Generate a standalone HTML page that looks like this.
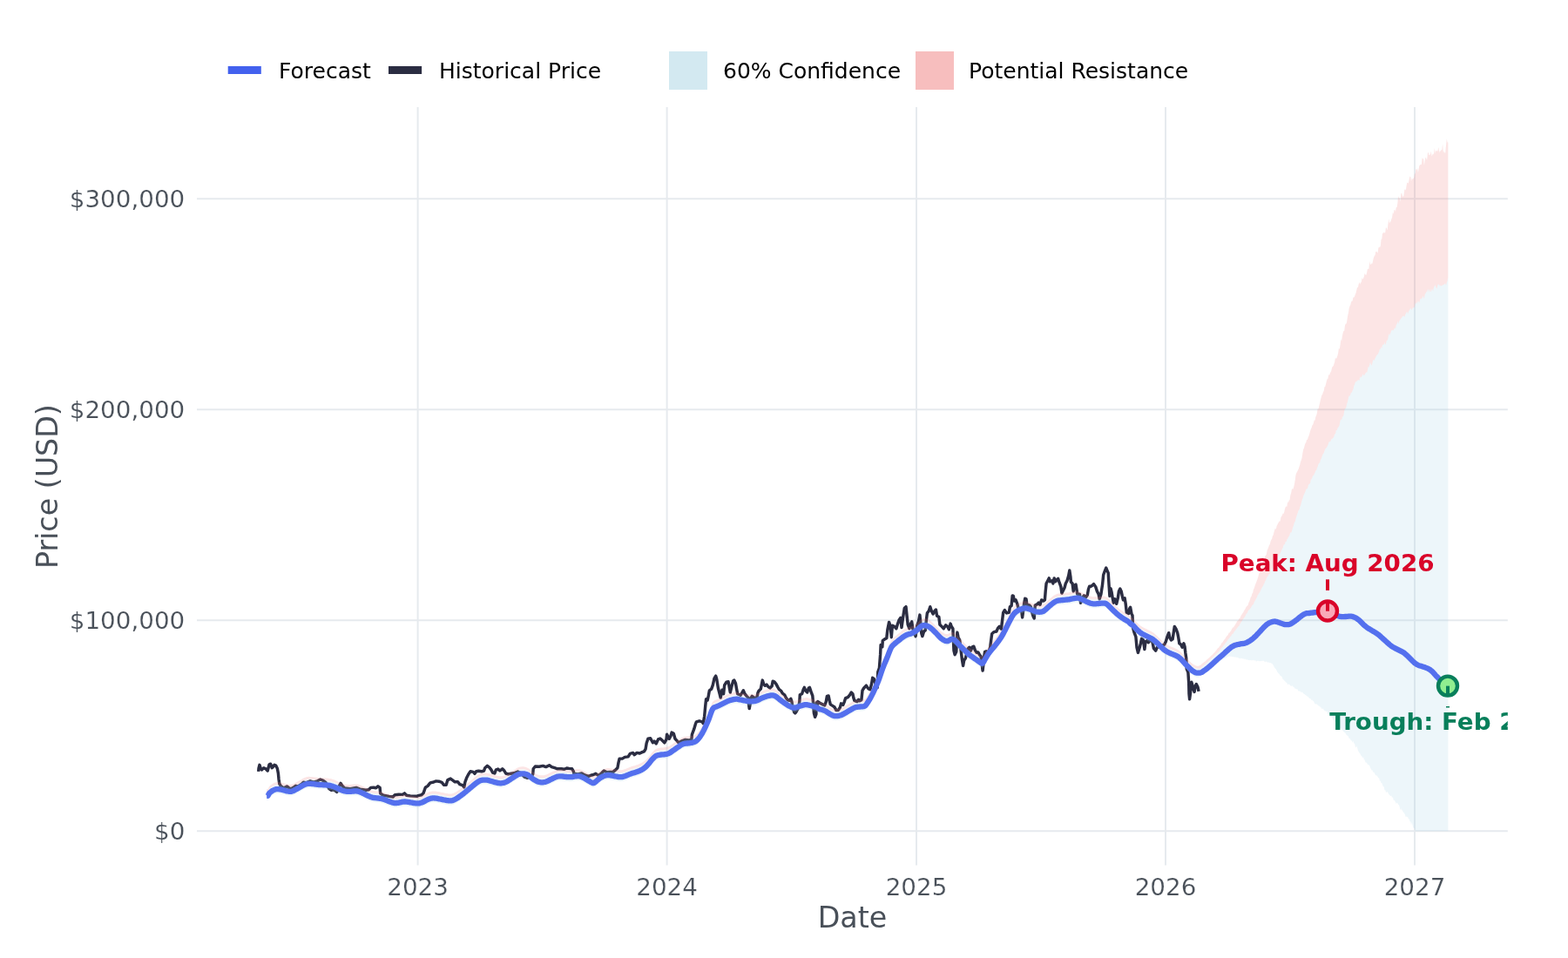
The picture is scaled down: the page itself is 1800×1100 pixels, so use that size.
<!DOCTYPE html>
<html lang="en"><head><meta charset="utf-8"><title>Price Forecast</title>
<style>
html,body{margin:0;padding:0;background:#fff;}
body{width:1800px;height:1100px;overflow:hidden;}
svg{display:block;}
text{font-family:"DejaVu Sans","Liberation Sans",sans-serif;}
.tick{font-size:27.8px;fill:#495059;stroke:#fff;stroke-width:0.2px;paint-order:fill stroke;}
.axt{font-size:33.3px;fill:#495059;}
.leg{font-size:25px;fill:#000;}
.ann{font-size:27.75px;font-weight:bold;}
</style></head><body>
<svg width="1800" height="1100" viewBox="0 0 1800 1100">
<rect width="1800" height="1100" fill="#fff"/>
<g stroke="#e6eaee" stroke-width="2" fill="none"><line x1="226" x2="1730.8" y1="228.2" y2="228.2"/><line x1="226" x2="1730.8" y1="470.2" y2="470.2"/><line x1="226" x2="1730.8" y1="712.2" y2="712.2"/><line x1="226" x2="1730.8" y1="954.3" y2="954.3"/><line x1="479.6" x2="479.6" y1="123" y2="993.5"/><line x1="765.6" x2="765.6" y1="123" y2="993.5"/><line x1="1052.0" x2="1052.0" y1="123" y2="993.5"/><line x1="1338.0" x2="1338.0" y1="123" y2="993.5"/><line x1="1624.0" x2="1624.0" y1="123" y2="993.5"/></g>
<defs><clipPath id="pc"><rect x="226" y="123" width="1504.8" height="870.5"/></clipPath></defs>
<polyline points="296.7,885.8 297.0,882.2 298.0,878.3 299.4,882.8 300.6,883.9 302.8,881.7 305.0,882.8 307.2,885.0 309.1,877.8 310.6,877.2 312.2,881.7 313.3,880.6 315.0,878.3 316.7,879.1 318.3,882.2 319.4,887.8 320.0,894.4 320.8,900.0 322.2,902.3 324.4,904.1 326.7,904.6 329.4,903.0 331.7,904.6 333.9,906.0 336.7,904.3 339.4,902.3 342.2,903.0 346.7,899.9 348.3,898.2 351.1,898.8 356.1,896.8 360.0,898.2 364.4,896.8 367.8,895.0 371.1,896.3 373.9,898.3 377.8,905.6 380.0,907.2 383.3,906.7 386.7,909.4 388.9,903.3 391.1,899.4 392.8,902.2 395.6,905.0 402.2,905.6 408.9,904.4 413.3,906.1 420.0,907.2 423.3,906.7 425.6,904.4 428.9,904.2 431.7,904.7 433.9,902.8 436.1,904.4 436.7,911.1 440.0,913.3 446.7,914.4 451.1,915.0 453.3,912.8 457.8,912.2 462.2,912.4 464.4,910.9 466.7,913.3 471.1,913.9 478.9,914.2 480.0,913.6 483.9,912.8 486.1,910.6 488.3,904.2 491.1,902.4 493.9,898.9 496.7,898.3 500.6,896.9 503.9,897.2 507.2,898.3 509.4,901.3 512.2,901.3 513.9,895.6 517.2,894.1 520.0,896.1 522.2,897.8 525.6,897.8 527.8,900.6 531.1,901.7 532.8,903.9 533.9,897.8 535.6,893.3 537.8,888.9 540.0,885.8 543.3,886.4 545.0,888.3 546.7,885.8 549.4,885.3 552.8,885.8 555.6,885.0 556.7,881.7 559.4,879.4 561.7,881.1 563.9,883.9 565.6,887.2 567.8,888.0 569.4,883.9 571.7,883.1 573.9,885.0 576.7,882.8 578.9,885.0 580.6,888.0 583.3,888.9 586.7,888.3 590.0,887.8 594.4,886.1 597.8,887.8 602.2,892.2 605.6,893.3 611.1,890.0 611.7,888.9 612.2,882.8 614.4,880.0 618.9,880.2 623.3,879.4 626.7,880.6 630.6,878.7 633.3,880.6 636.7,881.7 640.0,882.8 644.4,882.8 647.8,883.3 650.6,882.0 653.3,882.4 656.7,882.8 658.3,885.6 658.9,888.3 663.3,888.9 667.8,888.0 671.1,890.0 675.6,891.3 679.4,889.8 680.0,890.0 683.9,888.3 687.2,890.6 690.6,887.8 693.3,885.0 696.7,886.7 700.0,886.4 703.9,886.4 706.1,884.4 708.9,881.7 710.0,875.6 711.1,871.1 714.4,871.1 717.2,869.4 721.1,868.9 723.3,865.3 726.7,864.4 728.3,866.7 731.1,864.4 734.4,865.0 737.2,863.6 739.4,862.8 741.1,860.0 742.2,853.3 743.9,848.3 746.7,847.8 749.4,852.8 751.1,851.1 753.3,853.9 755.6,848.9 757.8,848.0 760.6,850.6 762.8,852.8 765.0,848.9 765.6,843.3 766.7,845.6 768.3,848.3 770.0,845.0 771.1,841.1 773.3,842.2 775.0,848.3 777.2,850.6 778.9,852.8 783.3,850.6 786.7,849.4 791.1,850.0 793.9,848.9 794.4,843.3 796.7,837.2 798.3,831.7 799.4,828.9 802.8,827.8 806.1,828.9 807.2,830.6 808.7,822.2 809.8,810.0 810.6,802.8 812.2,803.9 813.3,798.9 814.4,792.8 816.7,791.1 818.3,786.7 820.0,778.9 821.7,776.1 822.8,780.0 824.4,790.0 826.1,796.7 827.2,801.1 828.9,792.2 830.6,796.7 831.7,786.7 833.9,783.3 836.1,782.8 837.2,788.9 838.3,795.0 840.0,787.8 841.7,781.7 842.8,781.1 844.4,784.4 845.6,791.1 846.7,796.7 850.0,798.3 851.7,795.6 853.3,792.8 855.0,796.7 857.2,799.4 858.9,801.1 859.4,807.8 860.2,813.6 861.3,807.8 862.2,801.1 863.3,799.4 865.6,801.1 868.9,801.1 870.0,795.6 871.1,793.3 873.3,791.1 874.4,785.6 875.3,781.1 876.7,785.6 878.3,787.2 880.0,786.1 881.7,788.3 883.9,790.0 886.1,787.8 887.2,782.2 888.9,782.8 891.1,785.6 892.8,788.9 894.4,791.7 896.7,793.3 898.3,796.1 900.6,797.8 902.2,801.1 904.4,803.9 906.1,804.4 907.8,802.2 908.9,805.6 910.0,812.2 911.7,817.8 912.8,818.9 914.4,816.7 916.7,812.2 917.8,805.6 918.3,797.8 920.6,796.7 922.2,791.7 923.3,789.4 925.0,793.3 926.7,795.0 928.3,790.0 929.4,789.4 931.1,794.4 932.8,798.9 933.6,807.8 934.4,818.9 935.6,823.3 936.9,820.0 937.2,806.7 937.6,814.4 938.9,805.6 941.1,807.2 944.4,808.9 946.7,810.0 948.3,805.6 949.4,799.4 951.1,798.9 952.2,804.4 953.3,808.9 956.1,810.6 957.8,811.7 960.0,815.6 962.2,815.6 964.4,812.2 965.6,807.8 967.8,809.4 969.4,805.6 970.6,801.7 973.3,800.6 975.6,797.8 977.2,795.0 978.9,796.7 979.8,801.1 980.9,804.4 983.9,805.6 985.6,803.3 986.9,804.8 988.9,803.7 990.0,792.8 991.7,790.0 994.4,787.2 996.7,790.6 998.9,791.7 1000.6,785.0 1001.7,778.3 1003.3,779.4 1005.0,785.0 1007.2,789.4 1007.8,771.7 1009.4,767.2 1010.6,751.7 1011.1,740.6 1012.8,742.8 1013.3,735.6 1015.6,733.9 1017.8,732.8 1018.9,722.8 1020.6,714.4 1022.2,719.4 1023.3,731.7 1024.4,718.3 1026.7,719.4 1028.9,721.7 1030.6,716.1 1032.2,711.7 1033.9,709.4 1035.0,720.6 1036.7,708.3 1038.3,698.3 1040.0,696.7 1041.1,707.2 1042.2,717.2 1043.9,721.7 1045.6,716.1 1046.7,713.9 1047.8,721.7 1049.4,726.1 1051.1,730.6 1052.8,718.3 1054.4,713.9 1055.9,706.1 1056.7,713.9 1057.8,727.2 1058.9,730.6 1060.6,725.0 1062.2,723.9 1063.3,712.8 1064.4,703.9 1066.1,701.7 1067.8,696.7 1069.4,701.7 1071.1,705.0 1072.8,701.7 1074.4,700.0 1075.6,707.2 1077.8,708.3 1078.9,717.2 1081.1,719.4 1083.3,721.7 1085.6,717.8 1087.8,719.4 1089.4,722.8 1091.1,716.1 1092.2,719.4 1093.9,721.7 1094.4,735.0 1095.0,747.2 1096.1,751.7 1097.8,748.3 1098.3,735.0 1098.9,726.1 1100.0,731.7 1101.7,735.0 1103.3,748.3 1104.4,757.2 1105.6,764.4 1106.7,758.3 1108.3,756.1 1109.4,751.7 1111.1,745.0 1112.8,743.3 1114.4,747.2 1116.1,742.8 1117.8,742.2 1119.4,746.7 1121.1,749.4 1122.8,748.9 1124.4,751.7 1126.1,753.9 1127.2,762.8 1128.1,770.0 1128.9,762.8 1129.7,753.9 1130.6,748.3 1132.2,747.8 1134.4,750.0 1136.7,743.3 1137.8,734.4 1138.7,727.8 1141.1,725.6 1143.9,725.0 1145.6,721.1 1147.2,719.4 1149.4,722.2 1150.6,712.2 1151.7,703.3 1153.3,700.6 1155.6,703.9 1158.3,703.3 1159.4,696.7 1161.1,695.6 1162.2,683.9 1163.3,684.4 1164.4,690.0 1166.1,688.9 1167.8,693.3 1168.9,697.8 1172.8,702.2 1173.6,708.9 1174.4,703.3 1175.6,693.3 1176.7,687.2 1178.0,687.8 1178.9,694.4 1181.7,695.0 1183.3,696.7 1184.4,702.2 1186.1,707.8 1187.2,710.0 1187.8,702.2 1188.3,695.0 1190.6,693.9 1192.2,692.2 1193.9,694.4 1195.6,688.9 1197.8,690.0 1199.4,688.9 1200.2,678.9 1201.1,670.0 1202.8,666.7 1204.2,663.9 1205.6,667.8 1207.8,666.7 1208.9,670.0 1210.2,663.9 1211.7,667.8 1213.3,665.6 1214.7,664.4 1216.1,668.9 1217.8,673.3 1218.9,681.1 1220.6,677.8 1222.2,674.4 1223.3,670.0 1225.0,666.7 1226.7,661.1 1227.8,655.0 1228.9,662.2 1229.4,668.3 1231.1,670.0 1232.2,678.9 1233.3,672.2 1235.0,671.1 1236.1,677.8 1236.7,682.2 1239.4,682.2 1240.6,692.2 1242.2,686.7 1244.4,683.9 1246.7,685.6 1248.3,683.3 1249.4,676.7 1250.6,673.3 1252.2,673.3 1253.9,672.2 1255.6,670.6 1257.8,673.9 1259.4,678.9 1261.1,682.2 1262.2,687.8 1263.9,682.2 1265.6,671.1 1266.7,660.0 1268.3,655.6 1269.8,652.0 1271.1,655.6 1272.2,657.8 1273.1,672.2 1273.9,684.4 1275.0,675.6 1276.1,680.0 1277.2,686.7 1278.3,692.2 1280.0,687.8 1281.7,693.3 1283.3,686.7 1284.4,678.9 1285.8,676.1 1287.2,678.9 1288.3,684.4 1289.4,688.9 1291.1,686.7 1292.2,693.3 1293.3,703.3 1295.6,704.4 1296.7,698.9 1297.6,697.2 1298.9,704.4 1300.0,706.7 1300.6,721.1 1302.2,726.7 1303.9,731.1 1305.0,743.3 1306.4,749.4 1308.3,743.3 1309.4,738.9 1310.6,733.3 1312.2,734.4 1313.3,741.1 1313.9,745.6 1315.0,736.7 1316.7,735.6 1318.3,737.8 1320.0,735.6 1321.7,733.3 1323.3,738.9 1324.4,744.4 1326.7,747.2 1328.3,743.3 1332.2,742.2 1336.7,740.0 1338.3,736.7 1340.0,731.1 1341.7,726.7 1342.8,732.2 1344.4,735.0 1346.1,733.9 1347.2,726.7 1348.3,719.4 1350.0,722.2 1351.7,726.7 1352.8,732.2 1353.9,738.9 1355.6,740.0 1357.2,743.3 1358.9,738.9 1360.0,742.2 1360.9,750.0 1361.7,755.6 1362.2,767.8 1363.9,772.2 1364.7,784.4 1365.0,796.7 1365.6,802.8 1366.4,796.7 1367.8,783.3 1368.9,786.7 1370.0,791.1 1371.1,794.4 1372.2,787.8 1373.3,785.6 1375.0,788.9 1376.1,793.9" fill="none" stroke="#2b2d42" stroke-width="3.45" stroke-linejoin="round" stroke-linecap="butt"/>
<polygon points="306.1,908.9 307.5,908.8 309.1,905.8 310.1,904.9 311.1,904.1 312.1,903.4 313.1,902.7 314.1,902.2 315.1,901.7 316.1,901.4 317.1,901.2 318.1,901.1 319.1,901.1 320.1,901.1 321.1,901.3 322.1,901.4 323.1,901.7 324.1,902.0 325.1,902.2 326.1,902.5 327.1,902.8 328.1,903.1 329.1,903.3 330.1,903.5 331.1,903.7 332.1,903.8 333.1,903.9 334.1,903.8 335.1,903.6 336.1,903.3 337.1,902.9 338.1,902.4 339.1,901.8 340.1,901.3 341.1,900.7 342.1,900.1 343.1,899.6 344.1,899.0 345.1,898.4 346.1,897.9 347.1,897.3 348.1,896.8 349.1,896.2 350.1,895.8 351.1,895.4 352.1,895.1 353.1,894.9 354.1,894.8 355.1,894.8 356.1,894.9 357.1,894.9 358.1,895.0 359.1,895.1 360.1,895.2 361.1,895.4 362.1,895.5 363.1,895.7 364.1,895.8 365.1,895.9 366.1,896.0 367.1,896.1 368.1,896.2 369.1,896.2 370.1,896.2 371.1,896.3 372.1,896.3 373.1,896.3 374.1,896.4 375.1,896.5 376.1,896.6 377.1,896.7 378.1,896.9 379.1,897.0 380.1,897.3 381.1,897.5 382.1,897.9 383.1,898.2 384.1,898.6 385.1,899.0 386.1,899.5 387.1,899.9 388.1,900.4 389.1,900.9 390.1,901.4 391.1,901.9 392.1,902.3 393.1,902.7 394.1,903.0 395.1,903.3 396.1,903.5 397.1,903.7 398.1,903.8 399.1,903.9 400.1,903.9 401.1,903.9 402.1,903.9 403.1,903.8 404.1,903.7 405.1,903.6 406.1,903.5 407.1,903.4 408.1,903.4 409.1,903.4 410.1,903.5 411.1,903.7 412.1,904.0 413.1,904.4 414.1,904.8 415.1,905.2 416.1,905.7 417.1,906.2 418.1,906.6 419.1,907.1 420.1,907.6 421.1,908.1 422.1,908.6 423.1,909.0 424.1,909.5 425.1,909.9 426.1,910.3 427.1,910.6 428.1,910.8 429.1,911.0 430.1,911.1 431.1,911.2 432.1,911.3 433.1,911.4 434.1,911.5 435.1,911.6 436.1,911.8 437.1,912.0 438.1,912.2 439.1,912.4 440.1,912.7 441.1,913.0 442.1,913.4 443.1,913.8 444.1,914.2 445.1,914.6 446.1,915.0 447.1,915.4 448.1,915.8 449.1,916.1 450.1,916.4 451.1,916.7 452.1,916.9 453.1,917.1 454.1,917.1 455.1,917.0 456.1,916.9 457.1,916.8 458.1,916.6 459.1,916.4 460.1,916.2 461.1,915.9 462.1,915.7 463.1,915.6 464.1,915.5 465.1,915.5 466.1,915.6 467.1,915.7 468.1,915.8 469.1,915.9 470.1,916.1 471.1,916.3 472.1,916.5 473.1,916.7 474.1,916.9 475.1,917.1 476.1,917.2 477.1,917.3 478.1,917.4 479.1,917.4 480.1,917.4 481.1,917.3 482.1,917.1 483.1,916.8 484.1,916.5 485.1,916.1 486.1,915.6 487.1,915.1 488.1,914.6 489.1,914.0 490.1,913.5 491.1,913.0 492.1,912.6 493.1,912.2 494.1,911.9 495.1,911.7 496.1,911.5 497.1,911.4 498.1,911.4 499.1,911.5 500.1,911.6 501.1,911.7 502.1,911.9 503.1,912.1 504.1,912.3 505.1,912.5 506.1,912.7 507.1,912.9 508.1,913.1 509.1,913.3 510.1,913.5 511.1,913.7 512.1,913.9 513.1,914.1 514.1,914.2 515.1,914.4 516.1,914.4 517.1,914.4 518.1,914.4 519.1,914.2 520.1,913.9 521.1,913.5 522.1,913.0 523.1,912.5 524.1,911.9 525.1,911.3 526.1,910.6 527.1,909.9 528.1,909.2 529.1,908.5 530.1,907.7 531.1,907.0 532.1,906.2 533.1,905.4 534.1,904.6 535.1,903.7 536.1,902.9 537.1,902.1 538.1,901.2 539.1,900.4 540.1,899.5 541.1,898.7 542.1,897.9 543.1,897.0 544.1,896.2 545.1,895.3 546.1,894.6 547.1,893.8 548.1,893.1 549.1,892.5 550.1,891.9 551.1,891.4 552.1,891.0 553.1,890.8 554.1,890.6 555.1,890.6 556.1,890.6 557.1,890.6 558.1,890.6 559.1,890.7 560.1,890.9 561.1,891.1 562.1,891.4 563.1,891.7 564.1,892.0 565.1,892.3 566.1,892.6 567.1,892.9 568.1,893.2 569.1,893.4 570.1,893.6 571.1,893.9 572.1,894.1 573.1,894.2 574.1,894.3 575.1,894.3 576.1,894.2 577.1,894.0 578.1,893.8 579.1,893.6 580.1,893.2 581.1,892.8 582.1,892.3 583.1,891.6 584.1,891.0 585.1,890.3 586.1,889.7 587.1,889.0 588.1,888.3 589.1,887.7 590.1,887.1 591.1,886.4 592.1,885.8 593.1,885.2 594.1,884.6 595.1,884.2 596.1,883.8 597.1,883.6 598.1,883.4 599.1,883.3 600.1,883.3 601.1,883.3 602.1,883.4 603.1,883.7 604.1,884.0 605.1,884.4 606.1,884.9 607.1,885.6 608.1,886.4 609.1,887.2 610.1,888.1 611.1,888.9 612.1,889.6 613.1,890.2 614.1,890.8 615.1,891.4 616.1,891.9 617.1,892.4 618.1,892.7 619.1,893.0 620.1,893.2 621.1,893.3 622.1,893.3 623.1,893.3 624.1,893.2 625.1,893.0 626.1,892.8 627.1,892.5 628.1,892.0 629.1,891.6 630.1,891.1 631.1,890.6 632.1,890.0 633.1,889.6 634.1,889.1 635.1,888.6 636.1,888.2 637.1,887.7 638.1,887.3 639.1,886.9 640.1,886.7 641.1,886.5 642.1,886.3 643.1,886.3 644.1,886.3 645.1,886.4 646.1,886.5 647.1,886.6 648.1,886.8 649.1,886.9 650.1,887.0 651.1,887.1 652.1,887.1 653.1,887.2 654.1,887.2 655.1,887.2 656.1,887.2 657.1,887.0 658.1,886.9 659.1,886.7 660.1,886.5 661.1,886.3 662.1,886.3 663.1,886.2 664.1,886.2 665.1,886.3 666.1,886.5 667.1,886.9 668.1,887.3 669.1,887.7 670.1,888.3 671.1,888.8 672.1,889.4 673.1,890.0 674.1,890.6 675.1,891.2 676.1,891.8 677.1,892.4 678.1,893.0 679.1,893.5 680.1,894.0 681.1,894.1 682.1,893.9 683.1,893.2 684.1,892.3 685.1,891.4 686.1,890.5 687.1,889.7 688.1,888.9 689.1,888.2 690.1,887.6 691.1,887.1 692.1,886.6 693.1,886.2 694.1,885.8 695.1,885.5 696.1,885.2 697.1,885.1 698.1,885.0 699.1,885.1 700.1,885.2 701.1,885.4 702.1,885.5 703.1,885.7 704.1,885.9 705.1,886.1 706.1,886.3 707.1,886.5 708.1,886.7 709.1,886.9 710.1,887.1 711.1,887.2 712.1,887.2 713.1,887.2 714.1,887.1 715.1,886.9 716.1,886.6 717.1,886.2 718.1,885.9 719.1,885.5 720.1,885.1 721.1,884.7 722.1,884.2 723.1,883.8 724.1,883.5 725.1,883.1 726.1,882.8 727.1,882.5 728.1,882.2 729.1,881.9 730.1,881.6 731.1,881.3 732.1,880.9 733.1,880.5 734.1,880.1 735.1,879.6 736.1,879.2 737.1,878.6 738.1,878.0 739.1,877.3 740.1,876.5 741.1,875.7 742.1,874.7 743.1,873.7 744.1,872.6 745.1,871.4 746.1,870.2 747.1,868.9 748.1,867.6 749.1,866.4 750.1,865.4 751.1,864.4 752.1,863.6 753.1,862.9 754.1,862.5 755.1,862.2 756.1,862.0 757.1,861.8 758.1,861.6 759.1,861.5 760.1,861.4 761.1,861.4 762.1,861.3 763.1,861.1 764.1,861.0 765.1,860.8 766.1,860.6 767.1,860.3 768.1,859.9 769.1,859.3 770.1,858.6 771.1,857.9 772.1,857.2 773.1,856.5 774.1,855.8 775.1,855.1 776.1,854.4 777.1,853.7 778.1,853.0 779.1,852.3 780.1,851.6 781.1,850.9 782.1,850.3 783.1,849.8 784.1,849.4 785.1,849.0 786.1,848.8 787.1,848.7 788.1,848.6 789.1,848.5 790.1,848.4 791.1,848.3 792.1,848.2 793.1,848.0 794.1,847.8 795.1,847.6 796.1,847.3 797.1,847.0 798.1,846.5 799.1,845.9 800.1,845.0 801.1,844.0 802.1,842.9 803.1,841.6 804.1,840.2 805.1,838.6 806.1,837.0 807.1,835.1 808.1,833.2 809.1,831.2 810.1,829.0 811.1,826.8 812.1,824.5 813.1,822.1 814.1,819.5 815.1,816.7 816.1,813.8 817.1,811.1 818.1,809.1 819.1,807.9 820.1,807.2 821.1,806.8 822.1,806.5 823.1,806.1 824.1,805.7 825.1,805.2 826.1,804.7 827.1,804.2 828.1,803.7 829.1,803.2 830.1,802.7 831.1,802.2 832.1,801.7 833.1,801.2 834.1,800.7 835.1,800.2 836.1,799.8 837.1,799.4 838.1,799.1 839.1,798.8 840.1,798.6 841.1,798.3 842.1,798.1 843.1,797.9 844.1,797.8 845.1,797.7 846.1,797.7 847.1,797.9 848.1,798.1 849.1,798.3 850.1,798.5 851.1,798.7 852.1,798.9 853.1,799.1 854.1,799.3 855.1,799.5 856.1,799.7 857.1,799.9 858.1,800.0 859.1,800.2 860.1,800.3 861.1,800.3 862.1,800.3 863.1,800.3 864.1,800.3 865.1,800.2 866.1,800.1 867.1,799.9 868.1,799.7 869.1,799.3 870.1,798.9 871.1,798.4 872.1,797.9 873.1,797.3 874.1,796.8 875.1,796.4 876.1,796.0 877.1,795.6 878.1,795.2 879.1,794.9 880.1,794.6 881.1,794.3 882.1,794.0 883.1,793.8 884.1,793.6 885.1,793.4 886.1,793.3 887.1,793.4 888.1,793.6 889.1,793.9 890.1,794.4 891.1,795.0 892.1,795.8 893.1,796.6 894.1,797.4 895.1,798.2 896.1,799.0 897.1,799.7 898.1,800.5 899.1,801.2 900.1,801.9 901.1,802.6 902.1,803.2 903.1,803.9 904.1,804.6 905.1,805.2 906.1,805.8 907.1,806.3 908.1,806.8 909.1,807.2 910.1,807.5 911.1,807.6 912.1,807.6 913.1,807.5 914.1,807.2 915.1,806.9 916.1,806.5 917.1,806.2 918.1,805.8 919.1,805.5 920.1,805.2 921.1,804.9 922.1,804.6 923.1,804.4 924.1,804.2 925.1,804.1 926.1,804.1 927.1,804.3 928.1,804.5 929.1,804.8 930.1,805.0 931.1,805.3 932.1,805.6 933.1,805.9 934.1,806.2 935.1,806.5 936.1,806.8 937.1,807.1 938.1,807.5 939.1,808.3 940.1,808.9 941.1,809.3 942.1,809.5 943.1,809.8 944.1,810.1 945.1,810.4 946.1,810.8 947.1,811.3 948.1,811.8 949.1,812.4 950.1,813.1 951.1,813.7 952.1,814.4 953.1,815.0 954.1,815.5 955.1,816.1 956.1,816.5 957.1,816.9 958.1,817.1 959.1,817.2 960.1,817.2 961.1,817.1 962.1,817.0 963.1,816.8 964.1,816.5 965.1,816.2 966.1,815.9 967.1,815.4 968.1,814.9 969.1,814.4 970.1,813.8 971.1,813.2 972.1,812.6 973.1,812.0 974.1,811.4 975.1,810.8 976.1,810.2 977.1,809.6 978.1,809.1 979.1,808.5 980.1,808.0 981.1,807.5 982.1,807.1 983.1,806.9 984.1,806.8 985.1,806.6 986.1,806.6 987.1,806.5 988.1,806.4 989.1,806.4 990.1,806.3 991.1,806.2 992.1,805.9 993.1,805.4 994.1,804.4 995.1,803.1 996.1,801.6 997.1,800.0 998.1,798.3 999.1,796.6 1000.1,794.8 1001.1,792.9 1002.1,790.9 1003.1,788.7 1004.1,786.5 1005.1,784.2 1006.1,781.9 1007.1,779.7 1008.1,777.3 1009.1,774.7 1010.1,771.8 1011.1,768.7 1012.1,765.7 1013.1,762.9 1014.1,760.3 1015.1,757.9 1016.1,755.5 1017.1,753.2 1018.1,750.8 1019.1,748.3 1020.1,745.7 1021.1,743.1 1022.1,740.6 1023.1,738.5 1024.1,736.9 1025.1,735.9 1026.1,735.0 1027.1,734.1 1028.1,733.2 1029.1,732.4 1030.1,731.6 1031.1,730.8 1032.1,730.0 1033.1,729.2 1034.1,728.4 1035.1,727.6 1036.1,726.8 1037.1,726.1 1038.1,725.5 1039.1,724.9 1040.1,724.4 1041.1,723.9 1042.1,723.5 1043.1,723.2 1044.1,723.0 1045.1,722.7 1046.1,722.4 1047.1,722.0 1048.1,721.5 1049.1,720.9 1050.1,720.3 1051.1,719.6 1052.1,718.9 1053.1,718.1 1054.1,717.2 1055.1,716.3 1056.1,715.3 1057.1,714.4 1058.1,713.8 1059.1,713.3 1060.1,713.1 1061.1,713.0 1062.1,713.1 1063.1,713.3 1064.1,713.6 1065.1,714.0 1066.1,714.5 1067.1,715.1 1068.1,715.8 1069.1,716.7 1070.1,717.5 1071.1,718.4 1072.1,719.4 1073.1,720.4 1074.1,721.4 1075.1,722.5 1076.1,723.6 1077.1,724.8 1078.1,725.8 1079.1,726.8 1080.1,727.7 1081.1,728.5 1082.1,729.2 1083.1,729.8 1084.1,730.4 1085.1,730.8 1086.1,731.0 1087.1,731.1 1088.1,731.0 1089.1,730.6 1090.1,730.0 1091.1,729.4 1092.1,728.9 1093.1,728.8 1094.1,729.0 1095.1,729.5 1096.1,730.2 1097.1,731.0 1098.1,732.1 1099.1,733.2 1100.1,734.3 1101.1,735.5 1102.1,736.5 1103.1,737.6 1104.1,738.6 1105.1,739.6 1106.1,740.6 1107.1,741.6 1108.1,742.5 1109.1,743.5 1110.1,744.5 1111.1,745.4 1112.1,746.3 1113.1,747.0 1114.1,747.8 1115.1,748.5 1116.1,749.2 1117.1,749.9 1118.1,750.6 1119.1,751.3 1120.1,752.0 1121.1,752.7 1122.1,753.4 1123.1,754.1 1124.1,754.8 1125.1,755.5 1126.1,756.3 1127.1,756.8 1128.1,756.5 1129.1,755.2 1130.1,753.3 1131.1,751.5 1132.1,749.8 1133.1,748.2 1134.1,746.6 1135.1,745.1 1136.1,743.7 1137.1,742.5 1138.1,741.3 1139.1,740.1 1140.1,739.0 1141.1,737.8 1142.1,736.5 1143.1,735.2 1144.1,734.0 1145.1,732.6 1146.1,731.3 1147.1,729.9 1148.1,728.5 1149.1,727.0 1150.1,725.4 1151.1,723.7 1152.1,721.8 1153.1,719.9 1154.1,718.0 1155.1,715.9 1156.1,713.9 1157.1,711.9 1158.1,709.9 1159.1,708.0 1160.1,706.1 1161.1,704.2 1162.1,702.5 1163.1,700.9 1164.1,699.6 1165.1,698.5 1166.1,697.7 1167.1,697.0 1168.1,696.3 1169.1,695.8 1170.1,695.3 1171.1,694.9 1172.1,694.5 1173.1,694.1 1174.1,693.8 1175.1,693.5 1176.1,693.4 1177.1,693.3 1178.1,693.4 1179.1,693.6 1180.1,693.9 1181.1,694.2 1182.1,694.6 1183.1,694.9 1184.1,695.3 1185.1,695.7 1186.1,696.1 1187.1,696.5 1188.1,696.9 1189.1,697.3 1190.1,697.5 1191.1,697.7 1192.1,697.7 1193.1,697.8 1194.1,697.7 1195.1,697.6 1196.1,697.4 1197.1,697.1 1198.1,696.6 1199.1,695.9 1200.1,695.1 1201.1,694.2 1202.1,693.2 1203.1,692.3 1204.1,691.4 1205.1,690.5 1206.1,689.7 1207.1,688.9 1208.1,688.1 1209.1,687.3 1210.1,686.6 1211.1,686.0 1212.1,685.5 1213.1,685.0 1214.1,684.7 1215.1,684.5 1216.1,684.4 1217.1,684.3 1218.1,684.2 1219.1,684.1 1220.1,684.0 1221.1,683.9 1222.1,683.8 1223.1,683.7 1224.1,683.6 1225.1,683.5 1226.1,683.4 1227.1,683.3 1228.1,683.1 1229.1,682.9 1230.1,682.7 1231.1,682.5 1232.1,682.2 1233.1,682.1 1234.1,681.9 1235.1,681.8 1236.1,681.7 1237.1,681.7 1238.1,681.8 1239.1,682.1 1240.1,682.4 1241.1,682.8 1242.1,683.3 1243.1,683.8 1244.1,684.3 1245.1,684.8 1246.1,685.3 1247.1,685.8 1248.1,686.2 1249.1,686.6 1250.1,687.0 1251.1,687.4 1252.1,687.7 1253.1,688.0 1254.1,688.2 1255.1,688.3 1256.1,688.3 1257.1,688.3 1258.1,688.3 1259.1,688.2 1260.1,688.1 1261.1,688.0 1262.1,687.9 1263.1,687.8 1264.1,687.7 1265.1,687.6 1266.1,687.6 1267.1,687.6 1268.1,687.7 1269.1,687.9 1270.1,688.4 1271.1,689.1 1272.1,689.9 1273.1,690.9 1274.1,691.9 1275.1,692.9 1276.1,693.9 1277.1,694.9 1278.1,695.9 1279.1,696.9 1280.1,697.8 1281.1,698.8 1282.1,699.7 1283.1,700.5 1284.1,701.4 1285.1,702.2 1286.1,702.9 1287.1,703.6 1288.1,704.3 1289.1,705.0 1290.1,705.6 1291.1,706.3 1292.1,706.9 1293.1,707.4 1294.1,708.0 1295.1,708.6 1296.1,709.4 1297.1,710.4 1298.1,711.4 1299.1,712.1 1300.1,712.6 1301.1,713.4 1302.1,714.5 1303.1,715.7 1304.1,716.8 1305.1,717.9 1306.1,718.8 1307.1,719.7 1308.1,720.6 1309.1,721.4 1310.1,722.1 1311.1,722.8 1312.1,723.3 1313.1,723.8 1314.1,724.3 1315.1,724.8 1316.1,725.3 1317.1,725.8 1318.1,726.3 1319.1,726.8 1320.1,727.3 1321.1,727.8 1322.1,728.3 1323.1,728.9 1324.1,729.6 1325.1,730.4 1326.1,731.3 1327.1,732.2 1328.1,733.1 1329.1,734.1 1330.1,735.1 1331.1,736.1 1332.1,737.1 1333.1,738.1 1334.1,739.0 1335.1,739.9 1336.1,740.8 1337.1,741.5 1338.1,742.3 1339.1,742.9 1340.1,743.5 1341.1,744.0 1342.1,744.5 1343.1,745.0 1344.1,745.4 1345.1,745.8 1346.1,746.2 1347.1,746.6 1348.1,747.0 1349.1,747.4 1350.1,747.9 1351.1,748.4 1352.1,748.9 1353.1,749.6 1354.1,750.4 1355.1,751.3 1356.1,752.3 1357.1,753.3 1358.1,754.4 1359.1,755.6 1360.1,756.7 1361.1,757.8 1362.1,758.8 1363.1,759.8 1364.1,760.8 1365.1,761.8 1366.1,762.8 1367.1,763.7 1368.1,764.6 1369.1,765.3 1370.1,766.0 1371.1,766.6 1372.1,767.1 1373.1,767.5 1374.1,767.7 1375.1,767.7 1376.1,767.7 1377.0,767.8 1377.8,767.8 1378.6,767.1 1379.4,766.3 1380.1,765.6 1380.9,764.9 1381.7,764.2 1382.5,763.6 1383.3,762.8 1384.1,762.1 1384.8,761.4 1385.6,760.7 1386.4,760.0 1387.2,759.2 1388.0,758.6 1388.8,758.0 1389.5,757.1 1390.3,756.4 1391.1,755.6 1391.9,754.9 1392.7,754.2 1393.5,753.6 1394.2,752.8 1395.0,752.2 1395.8,751.4 1396.6,750.6 1397.4,749.5 1398.2,749.0 1399.0,748.3 1399.7,747.5 1400.5,746.3 1401.3,745.4 1402.1,744.3 1402.9,743.3 1403.7,742.7 1404.4,741.3 1405.2,740.4 1406.0,739.6 1406.8,738.3 1407.6,737.4 1408.4,736.4 1409.1,735.4 1409.9,734.0 1410.7,733.3 1411.5,732.6 1412.3,730.9 1413.1,730.5 1413.8,729.3 1414.6,728.0 1415.4,727.7 1416.2,726.4 1417.0,724.8 1417.8,724.2 1418.6,723.3 1419.3,722.0 1420.1,721.3 1420.9,720.0 1421.7,719.2 1422.5,718.4 1423.3,716.6 1424.0,715.7 1424.8,714.3 1425.6,713.3 1426.4,711.7 1427.2,710.7 1428.0,709.6 1428.7,708.8 1429.5,707.6 1430.3,705.4 1431.1,704.4 1431.9,703.7 1432.7,701.4 1433.4,700.8 1434.2,699.8 1435.0,699.3 1435.8,697.9 1436.6,696.4 1437.4,695.3 1438.2,694.3 1438.9,693.9 1439.7,691.6 1440.5,690.1 1441.3,688.9 1442.1,687.2 1442.9,685.7 1443.6,683.8 1444.4,682.8 1445.2,681.1 1446.0,680.4 1446.8,678.6 1447.6,676.8 1448.3,675.7 1449.1,673.7 1449.9,672.9 1450.7,670.8 1451.5,669.7 1452.3,667.2 1453.0,666.6 1453.8,664.0 1454.6,662.3 1455.4,661.7 1456.2,659.9 1457.0,659.0 1457.8,658.7 1458.5,655.5 1459.3,654.1 1460.1,653.1 1460.9,651.7 1461.7,649.9 1462.5,648.3 1463.2,647.4 1464.0,645.8 1464.8,643.3 1465.6,642.4 1466.4,641.0 1467.2,638.8 1467.9,638.2 1468.7,636.0 1469.5,635.7 1470.3,633.7 1471.1,632.1 1471.9,630.2 1472.6,629.0 1473.4,626.2 1474.2,625.3 1475.0,624.8 1475.8,621.6 1476.6,622.2 1477.4,618.9 1478.1,619.1 1478.9,616.5 1479.7,616.1 1480.5,614.1 1481.3,611.3 1482.1,611.8 1482.8,610.4 1483.6,607.4 1484.4,604.9 1485.2,602.6 1486.0,599.6 1486.8,598.9 1487.5,595.3 1488.3,593.3 1489.1,590.5 1489.9,588.5 1490.7,585.7 1491.5,585.6 1492.2,582.3 1493.0,580.8 1493.8,577.5 1494.6,574.4 1495.4,572.2 1496.2,569.5 1497.0,567.8 1497.7,565.9 1498.5,564.4 1499.3,561.9 1500.1,560.8 1500.9,561.4 1501.7,557.8 1502.4,555.9 1503.2,555.5 1504.0,554.9 1504.8,550.8 1505.6,550.3 1506.4,548.4 1507.1,545.8 1507.9,546.5 1508.7,544.2 1509.5,542.7 1510.3,540.4 1511.1,540.0 1511.8,537.4 1512.6,536.0 1513.4,533.2 1514.2,531.3 1515.0,531.9 1515.8,528.3 1516.6,527.2 1517.3,525.1 1518.1,522.8 1518.9,521.0 1519.7,520.3 1520.5,517.5 1521.3,515.8 1522.0,514.4 1522.8,514.3 1523.6,512.5 1524.4,510.9 1525.2,508.6 1526.0,506.4 1526.7,507.6 1527.5,506.5 1528.3,504.3 1529.1,504.0 1529.9,503.2 1530.7,502.2 1531.4,501.3 1532.2,498.2 1533.0,498.5 1533.8,493.7 1534.6,494.2 1535.4,491.9 1536.2,490.5 1536.9,489.9 1537.7,487.9 1538.5,483.4 1539.3,481.2 1540.1,482.5 1540.9,478.8 1541.6,478.4 1542.4,477.0 1543.2,471.8 1544.0,468.9 1544.8,469.3 1545.6,466.4 1546.3,463.3 1547.1,460.9 1547.9,457.1 1548.7,454.3 1549.5,454.8 1550.3,452.7 1551.0,450.4 1551.8,451.1 1552.6,448.4 1553.4,447.0 1554.2,443.2 1555.0,441.5 1555.8,439.0 1556.5,438.1 1557.3,438.5 1558.1,436.4 1558.9,437.0 1559.7,436.0 1560.5,437.3 1561.2,432.0 1562.0,434.2 1562.8,432.5 1563.6,432.0 1564.4,429.6 1565.2,430.4 1565.9,431.5 1566.7,429.8 1567.5,428.8 1568.3,427.2 1569.1,427.9 1569.9,425.2 1570.6,421.0 1571.4,421.9 1572.2,419.0 1573.0,416.0 1573.8,418.5 1574.6,419.8 1575.4,416.7 1576.1,413.7 1576.9,412.7 1577.7,414.3 1578.5,411.6 1579.3,410.1 1580.1,408.6 1580.8,407.3 1581.6,407.1 1582.4,405.3 1583.2,403.5 1584.0,400.3 1584.8,401.2 1585.5,398.3 1586.3,399.9 1587.1,395.5 1587.9,396.2 1588.7,395.4 1589.5,392.5 1590.2,396.0 1591.0,394.7 1591.8,390.7 1592.6,391.0 1593.4,388.8 1594.2,382.7 1595.0,385.5 1595.7,383.4 1596.5,382.1 1597.3,379.2 1598.1,379.5 1598.9,378.6 1599.7,379.8 1600.4,377.5 1601.2,376.0 1602.0,377.4 1602.8,373.1 1603.6,372.2 1604.4,368.4 1605.1,372.2 1605.9,369.7 1606.7,368.1 1607.5,367.0 1608.3,365.4 1609.1,364.9 1609.8,363.5 1610.6,362.9 1611.4,362.6 1612.2,364.3 1613.0,362.1 1613.8,360.3 1614.6,358.6 1615.3,357.8 1616.1,360.7 1616.9,358.1 1617.7,356.6 1618.5,355.2 1619.3,353.5 1620.0,354.9 1620.8,356.1 1621.6,353.5 1622.4,353.4 1623.2,353.0 1624.0,352.4 1624.7,348.1 1625.5,349.1 1626.3,346.6 1627.1,348.7 1627.9,345.1 1628.7,346.8 1629.4,347.8 1630.2,343.8 1631.0,342.6 1631.8,343.4 1632.6,342.3 1633.4,339.8 1634.2,341.4 1634.9,343.2 1635.7,338.0 1636.5,337.1 1637.3,334.5 1638.1,335.9 1638.9,332.4 1639.6,332.1 1640.4,336.0 1641.2,331.4 1642.0,334.6 1642.8,334.9 1643.6,332.0 1644.3,332.2 1645.1,334.4 1645.9,330.0 1646.7,328.9 1647.5,327.0 1648.3,329.3 1649.0,331.6 1649.8,330.2 1650.6,326.4 1651.4,326.5 1652.2,327.1 1653.0,328.5 1653.8,327.5 1654.5,328.2 1655.3,328.2 1656.1,327.0 1656.9,327.2 1657.7,326.8 1658.5,325.4 1659.2,325.8 1660.0,327.7 1660.8,324.3 1661.6,322.4 1662.4,318.3 1662.4,322.4 1662.4,954.3 1662.4,954.3 1661.6,954.3 1660.8,954.3 1660.0,954.3 1659.2,954.3 1658.5,954.3 1657.7,954.3 1656.9,954.3 1656.1,954.3 1655.3,954.3 1654.5,954.3 1653.8,954.3 1653.0,954.3 1652.2,954.3 1651.4,954.3 1650.6,954.3 1649.8,954.3 1649.0,954.3 1648.3,954.3 1647.5,954.3 1646.7,954.3 1645.9,954.3 1645.1,954.3 1644.3,954.3 1643.6,954.3 1642.8,954.3 1642.0,954.3 1641.2,954.3 1640.4,954.3 1639.6,954.3 1638.9,954.3 1638.1,954.3 1637.3,954.3 1636.5,954.3 1635.7,954.3 1634.9,954.3 1634.2,954.3 1633.4,954.3 1632.6,954.3 1631.8,954.3 1631.0,954.3 1630.2,954.3 1629.4,954.3 1628.7,954.3 1627.9,954.3 1627.1,954.3 1626.3,954.3 1625.5,954.3 1624.7,954.3 1624.0,951.4 1623.2,950.5 1622.4,950.6 1621.6,947.7 1620.8,944.0 1620.0,947.4 1619.3,943.6 1618.5,943.3 1617.7,940.6 1616.9,940.6 1616.1,937.7 1615.3,938.2 1614.6,937.3 1613.8,938.3 1613.0,935.8 1612.2,934.1 1611.4,932.8 1610.6,932.6 1609.8,929.6 1609.1,931.1 1608.3,928.0 1607.5,930.2 1606.7,926.2 1605.9,923.9 1605.1,924.1 1604.4,922.3 1603.6,921.7 1602.8,922.7 1602.0,921.2 1601.2,919.6 1600.4,918.6 1599.7,918.9 1598.9,914.9 1598.1,916.2 1597.3,913.4 1596.5,914.2 1595.7,913.6 1595.0,912.7 1594.2,912.1 1593.4,910.2 1592.6,908.9 1591.8,909.8 1591.0,909.7 1590.2,907.1 1589.5,907.6 1588.7,903.5 1587.9,903.0 1587.1,901.6 1586.3,898.9 1585.5,899.0 1584.8,896.6 1584.0,896.8 1583.2,893.4 1582.4,893.3 1581.6,892.1 1580.8,891.0 1580.1,889.9 1579.3,890.4 1578.5,888.9 1577.7,887.2 1576.9,886.4 1576.1,886.4 1575.4,884.2 1574.6,884.5 1573.8,883.0 1573.0,881.5 1572.2,878.9 1571.4,878.6 1570.6,877.7 1569.9,878.0 1569.1,875.8 1568.3,875.5 1567.5,875.5 1566.7,872.3 1565.9,872.8 1565.2,868.7 1564.4,870.8 1563.6,868.5 1562.8,868.1 1562.0,866.7 1561.2,865.0 1560.5,864.4 1559.7,863.1 1558.9,861.6 1558.1,858.7 1557.3,856.3 1556.5,858.4 1555.8,857.2 1555.0,853.7 1554.2,853.4 1553.4,850.7 1552.6,852.8 1551.8,850.5 1551.0,850.3 1550.3,849.2 1549.5,847.8 1548.7,847.9 1547.9,845.7 1547.1,844.8 1546.3,844.6 1545.6,843.7 1544.8,842.3 1544.0,841.3 1543.2,840.8 1542.4,840.2 1541.6,838.4 1540.9,838.7 1540.1,837.5 1539.3,835.9 1538.5,836.3 1537.7,835.2 1536.9,833.2 1536.2,831.4 1535.4,831.5 1534.6,831.7 1533.8,828.9 1533.0,828.4 1532.2,829.0 1531.4,826.0 1530.7,827.2 1529.9,825.2 1529.1,823.9 1528.3,823.2 1527.5,823.5 1526.7,821.9 1526.0,821.0 1525.2,820.6 1524.4,819.8 1523.6,816.6 1522.8,817.0 1522.0,817.0 1521.3,816.0 1520.5,815.9 1519.7,815.0 1518.9,813.6 1518.1,813.7 1517.3,813.9 1516.6,812.2 1515.8,812.4 1515.0,810.1 1514.2,811.5 1513.4,809.9 1512.6,809.3 1511.8,809.1 1511.1,807.8 1510.3,808.7 1509.5,808.3 1508.7,806.8 1507.9,804.7 1507.1,804.9 1506.4,803.5 1505.6,804.0 1504.8,802.8 1504.0,801.7 1503.2,802.3 1502.4,801.0 1501.7,799.7 1500.9,799.7 1500.1,799.2 1499.3,798.3 1498.5,798.1 1497.7,796.9 1497.0,797.1 1496.2,796.2 1495.4,795.2 1494.6,794.2 1493.8,795.4 1493.0,793.9 1492.2,793.5 1491.5,793.4 1490.7,793.7 1489.9,792.5 1489.1,790.8 1488.3,791.5 1487.5,790.7 1486.8,790.8 1486.0,789.7 1485.2,789.1 1484.4,788.5 1483.6,787.2 1482.8,787.4 1482.1,787.9 1481.3,786.9 1480.5,786.2 1479.7,785.5 1478.9,785.8 1478.1,786.2 1477.4,784.3 1476.6,783.5 1475.8,783.4 1475.0,781.7 1474.2,781.6 1473.4,780.2 1472.6,779.9 1471.9,777.8 1471.1,776.7 1470.3,776.1 1469.5,775.7 1468.7,774.0 1467.9,773.5 1467.2,772.8 1466.4,771.7 1465.6,770.0 1464.8,768.2 1464.0,767.8 1463.2,766.8 1462.5,765.4 1461.7,763.8 1460.9,762.4 1460.1,761.9 1459.3,761.4 1458.5,761.1 1457.8,761.3 1457.0,760.8 1456.2,760.3 1455.4,760.8 1454.6,759.9 1453.8,759.7 1453.0,759.2 1452.3,760.3 1451.5,759.4 1450.7,758.8 1449.9,758.6 1449.1,759.2 1448.3,758.8 1447.6,759.2 1446.8,758.9 1446.0,759.3 1445.2,759.3 1444.4,758.8 1443.6,758.8 1442.9,759.1 1442.1,759.4 1441.3,758.2 1440.5,758.5 1439.7,758.2 1438.9,758.2 1438.2,757.7 1437.4,758.2 1436.6,758.2 1435.8,758.1 1435.0,758.3 1434.2,757.9 1433.4,758.0 1432.7,757.7 1431.9,757.6 1431.1,757.3 1430.3,757.4 1429.5,756.5 1428.7,756.7 1428.0,756.8 1427.2,756.2 1426.4,756.2 1425.6,756.0 1424.8,755.7 1424.0,755.9 1423.3,756.2 1422.5,755.7 1421.7,755.5 1420.9,755.1 1420.1,754.8 1419.3,754.9 1418.6,754.4 1417.8,754.5 1417.0,754.6 1416.2,754.2 1415.4,754.1 1414.6,754.2 1413.8,753.6 1413.1,754.0 1412.3,753.7 1411.5,753.5 1410.7,753.5 1409.9,753.9 1409.1,754.1 1408.4,755.1 1407.6,755.2 1406.8,755.7 1406.0,756.0 1405.2,756.8 1404.4,757.0 1403.7,757.5 1402.9,758.0 1402.1,758.3 1401.3,758.6 1400.5,759.2 1399.7,759.7 1399.0,760.2 1398.2,760.8 1397.4,761.6 1396.6,762.0 1395.8,762.5 1395.0,763.2 1394.2,763.7 1393.5,764.4 1392.7,764.9 1391.9,765.5 1391.1,766.1 1390.3,766.8 1389.5,767.3 1388.8,768.0 1388.0,768.7 1387.2,769.4 1386.4,770.1 1385.6,770.6 1384.8,771.2 1384.1,771.8 1383.3,772.4 1382.5,773.0 1381.7,773.5 1380.9,774.0 1380.1,774.6 1379.4,774.9 1378.6,775.3 1377.8,775.5 1377.0,775.7 1376.1,777.7 1375.1,777.7 1374.1,777.7 1373.1,777.5 1372.1,777.1 1371.1,776.6 1370.1,776.0 1369.1,775.3 1368.1,774.6 1367.1,773.7 1366.1,772.8 1365.1,771.8 1364.1,770.8 1363.1,769.8 1362.1,768.8 1361.1,767.8 1360.1,766.7 1359.1,765.6 1358.1,764.4 1357.1,763.3 1356.1,762.3 1355.1,761.3 1354.1,760.4 1353.1,759.6 1352.1,758.9 1351.1,758.4 1350.1,757.9 1349.1,757.4 1348.1,757.0 1347.1,756.6 1346.1,756.2 1345.1,755.8 1344.1,755.4 1343.1,755.0 1342.1,754.5 1341.1,754.0 1340.1,753.5 1339.1,752.9 1338.1,752.3 1337.1,751.5 1336.1,750.8 1335.1,749.9 1334.1,749.0 1333.1,748.1 1332.1,747.1 1331.1,746.1 1330.1,745.1 1329.1,744.1 1328.1,743.1 1327.1,742.2 1326.1,741.3 1325.1,740.4 1324.1,739.6 1323.1,738.9 1322.1,738.3 1321.1,737.8 1320.1,737.3 1319.1,736.8 1318.1,736.3 1317.1,735.8 1316.1,735.3 1315.1,734.8 1314.1,734.3 1313.1,733.8 1312.1,733.3 1311.1,732.8 1310.1,732.1 1309.1,731.4 1308.1,730.6 1307.1,729.7 1306.1,728.8 1305.1,727.9 1304.1,726.8 1303.1,725.7 1302.1,724.5 1301.1,723.4 1300.1,722.6 1299.1,722.1 1298.1,721.4 1297.1,720.4 1296.1,719.4 1295.1,718.6 1294.1,718.0 1293.1,717.4 1292.1,716.9 1291.1,716.3 1290.1,715.6 1289.1,715.0 1288.1,714.3 1287.1,713.6 1286.1,712.9 1285.1,712.2 1284.1,711.4 1283.1,710.5 1282.1,709.7 1281.1,708.8 1280.1,707.8 1279.1,706.9 1278.1,705.9 1277.1,704.9 1276.1,703.9 1275.1,702.9 1274.1,701.9 1273.1,700.9 1272.1,699.9 1271.1,699.1 1270.1,698.4 1269.1,697.9 1268.1,697.7 1267.1,697.6 1266.1,697.6 1265.1,697.6 1264.1,697.7 1263.1,697.8 1262.1,697.9 1261.1,698.0 1260.1,698.1 1259.1,698.2 1258.1,698.3 1257.1,698.3 1256.1,698.3 1255.1,698.3 1254.1,698.2 1253.1,698.0 1252.1,697.7 1251.1,697.4 1250.1,697.0 1249.1,696.6 1248.1,696.2 1247.1,695.8 1246.1,695.3 1245.1,694.8 1244.1,694.3 1243.1,693.8 1242.1,693.3 1241.1,692.8 1240.1,692.4 1239.1,692.1 1238.1,691.8 1237.1,691.7 1236.1,691.7 1235.1,691.8 1234.1,691.9 1233.1,692.1 1232.1,692.2 1231.1,692.5 1230.1,692.7 1229.1,692.9 1228.1,693.1 1227.1,693.3 1226.1,693.4 1225.1,693.5 1224.1,693.6 1223.1,693.7 1222.1,693.8 1221.1,693.9 1220.1,694.0 1219.1,694.1 1218.1,694.2 1217.1,694.3 1216.1,694.4 1215.1,694.5 1214.1,694.7 1213.1,695.0 1212.1,695.5 1211.1,696.0 1210.1,696.6 1209.1,697.3 1208.1,698.1 1207.1,698.9 1206.1,699.7 1205.1,700.5 1204.1,701.4 1203.1,702.3 1202.1,703.2 1201.1,704.2 1200.1,705.1 1199.1,705.9 1198.1,706.6 1197.1,707.1 1196.1,707.4 1195.1,707.6 1194.1,707.7 1193.1,707.8 1192.1,707.7 1191.1,707.7 1190.1,707.5 1189.1,707.3 1188.1,706.9 1187.1,706.5 1186.1,706.1 1185.1,705.7 1184.1,705.3 1183.1,704.9 1182.1,704.6 1181.1,704.2 1180.1,703.9 1179.1,703.6 1178.1,703.4 1177.1,703.3 1176.1,703.4 1175.1,703.5 1174.1,703.8 1173.1,704.1 1172.1,704.5 1171.1,704.9 1170.1,705.3 1169.1,705.8 1168.1,706.3 1167.1,707.0 1166.1,707.7 1165.1,708.5 1164.1,709.6 1163.1,710.9 1162.1,712.5 1161.1,714.2 1160.1,716.1 1159.1,718.0 1158.1,719.9 1157.1,721.9 1156.1,723.9 1155.1,725.9 1154.1,728.0 1153.1,729.9 1152.1,731.8 1151.1,733.7 1150.1,735.4 1149.1,737.0 1148.1,738.5 1147.1,739.9 1146.1,741.3 1145.1,742.6 1144.1,744.0 1143.1,745.2 1142.1,746.5 1141.1,747.8 1140.1,749.0 1139.1,750.1 1138.1,751.3 1137.1,752.5 1136.1,753.7 1135.1,755.1 1134.1,756.6 1133.1,758.2 1132.1,759.8 1131.1,761.5 1130.1,763.3 1129.1,765.2 1128.1,766.5 1127.1,766.8 1126.1,766.3 1125.1,765.5 1124.1,764.8 1123.1,764.1 1122.1,763.4 1121.1,762.7 1120.1,762.0 1119.1,761.3 1118.1,760.6 1117.1,759.9 1116.1,759.2 1115.1,758.5 1114.1,757.8 1113.1,757.0 1112.1,756.3 1111.1,755.4 1110.1,754.5 1109.1,753.5 1108.1,752.5 1107.1,751.6 1106.1,750.6 1105.1,749.6 1104.1,748.6 1103.1,747.6 1102.1,746.5 1101.1,745.5 1100.1,744.3 1099.1,743.2 1098.1,742.1 1097.1,741.0 1096.1,740.2 1095.1,739.5 1094.1,739.0 1093.1,738.8 1092.1,738.9 1091.1,739.4 1090.1,740.0 1089.1,740.6 1088.1,741.0 1087.1,741.1 1086.1,741.0 1085.1,740.8 1084.1,740.4 1083.1,739.8 1082.1,739.2 1081.1,738.5 1080.1,737.7 1079.1,736.8 1078.1,735.8 1077.1,734.8 1076.1,733.6 1075.1,732.5 1074.1,731.4 1073.1,730.4 1072.1,729.4 1071.1,728.4 1070.1,727.5 1069.1,726.7 1068.1,725.8 1067.1,725.1 1066.1,724.5 1065.1,724.0 1064.1,723.6 1063.1,723.3 1062.1,723.1 1061.1,723.0 1060.1,723.1 1059.1,723.3 1058.1,723.8 1057.1,724.4 1056.1,725.3 1055.1,726.3 1054.1,727.2 1053.1,728.1 1052.1,728.9 1051.1,729.6 1050.1,730.3 1049.1,730.9 1048.1,731.5 1047.1,732.0 1046.1,732.4 1045.1,732.7 1044.1,733.0 1043.1,733.2 1042.1,733.5 1041.1,733.9 1040.1,734.4 1039.1,734.9 1038.1,735.5 1037.1,736.1 1036.1,736.8 1035.1,737.6 1034.1,738.4 1033.1,739.2 1032.1,740.0 1031.1,740.8 1030.1,741.6 1029.1,742.4 1028.1,743.2 1027.1,744.1 1026.1,745.0 1025.1,745.9 1024.1,746.9 1023.1,748.5 1022.1,750.6 1021.1,753.1 1020.1,755.7 1019.1,758.3 1018.1,760.8 1017.1,763.2 1016.1,765.5 1015.1,767.9 1014.1,770.3 1013.1,772.9 1012.1,775.7 1011.1,778.7 1010.1,781.8 1009.1,784.7 1008.1,787.3 1007.1,789.7 1006.1,791.9 1005.1,794.2 1004.1,796.5 1003.1,798.7 1002.1,800.9 1001.1,802.9 1000.1,804.8 999.1,806.6 998.1,808.3 997.1,810.0 996.1,811.6 995.1,813.1 994.1,814.4 993.1,815.4 992.1,815.9 991.1,816.2 990.1,816.3 989.1,816.4 988.1,816.4 987.1,816.5 986.1,816.6 985.1,816.6 984.1,816.8 983.1,816.9 982.1,817.1 981.1,817.5 980.1,818.0 979.1,818.5 978.1,819.1 977.1,819.6 976.1,820.2 975.1,820.8 974.1,821.4 973.1,822.0 972.1,822.6 971.1,823.2 970.1,823.8 969.1,824.4 968.1,824.9 967.1,825.4 966.1,825.9 965.1,826.2 964.1,826.5 963.1,826.8 962.1,827.0 961.1,827.1 960.1,827.2 959.1,827.2 958.1,827.1 957.1,826.9 956.1,826.5 955.1,826.1 954.1,825.5 953.1,825.0 952.1,824.4 951.1,823.7 950.1,823.1 949.1,822.4 948.1,821.8 947.1,821.3 946.1,820.8 945.1,820.4 944.1,820.1 943.1,819.8 942.1,819.5 941.1,819.3 940.1,818.9 939.1,818.3 938.1,817.5 937.1,817.1 936.1,816.8 935.1,816.5 934.1,816.2 933.1,815.9 932.1,815.6 931.1,815.3 930.1,815.0 929.1,814.8 928.1,814.5 927.1,814.3 926.1,814.1 925.1,814.1 924.1,814.2 923.1,814.4 922.1,814.6 921.1,814.9 920.1,815.2 919.1,815.5 918.1,815.8 917.1,816.2 916.1,816.5 915.1,816.9 914.1,817.2 913.1,817.5 912.1,817.6 911.1,817.6 910.1,817.5 909.1,817.2 908.1,816.8 907.1,816.3 906.1,815.8 905.1,815.2 904.1,814.6 903.1,813.9 902.1,813.2 901.1,812.6 900.1,811.9 899.1,811.2 898.1,810.5 897.1,809.7 896.1,809.0 895.1,808.2 894.1,807.4 893.1,806.6 892.1,805.8 891.1,805.0 890.1,804.4 889.1,803.9 888.1,803.6 887.1,803.4 886.1,803.3 885.1,803.4 884.1,803.6 883.1,803.8 882.1,804.0 881.1,804.3 880.1,804.6 879.1,804.9 878.1,805.2 877.1,805.6 876.1,806.0 875.1,806.4 874.1,806.8 873.1,807.3 872.1,807.9 871.1,808.4 870.1,808.9 869.1,809.3 868.1,809.7 867.1,809.9 866.1,810.1 865.1,810.2 864.1,810.3 863.1,810.3 862.1,810.3 861.1,810.3 860.1,810.3 859.1,810.2 858.1,810.0 857.1,809.9 856.1,809.7 855.1,809.5 854.1,809.3 853.1,809.1 852.1,808.9 851.1,808.7 850.1,808.5 849.1,808.3 848.1,808.1 847.1,807.9 846.1,807.7 845.1,807.7 844.1,807.8 843.1,807.9 842.1,808.1 841.1,808.3 840.1,808.6 839.1,808.8 838.1,809.1 837.1,809.4 836.1,809.8 835.1,810.2 834.1,810.7 833.1,811.2 832.1,811.7 831.1,812.2 830.1,812.7 829.1,813.2 828.1,813.7 827.1,814.2 826.1,814.7 825.1,815.2 824.1,815.7 823.1,816.1 822.1,816.5 821.1,816.8 820.1,817.2 819.1,817.9 818.1,819.1 817.1,821.1 816.1,823.8 815.1,826.7 814.1,829.5 813.1,832.1 812.1,834.5 811.1,836.8 810.1,839.0 809.1,841.2 808.1,843.2 807.1,845.1 806.1,847.0 805.1,848.6 804.1,850.2 803.1,851.6 802.1,852.9 801.1,854.0 800.1,855.0 799.1,855.9 798.1,856.5 797.1,857.0 796.1,857.3 795.1,857.6 794.1,857.8 793.1,858.0 792.1,858.2 791.1,858.3 790.1,858.4 789.1,858.5 788.1,858.6 787.1,858.7 786.1,858.8 785.1,859.0 784.1,859.4 783.1,859.8 782.1,860.3 781.1,860.9 780.1,861.6 779.1,862.3 778.1,863.0 777.1,863.7 776.1,864.4 775.1,865.1 774.1,865.8 773.1,866.5 772.1,867.2 771.1,867.9 770.1,868.6 769.1,869.3 768.1,869.9 767.1,870.3 766.1,870.6 765.1,870.8 764.1,871.0 763.1,871.1 762.1,871.3 761.1,871.4 760.1,871.4 759.1,871.5 758.1,871.6 757.1,871.8 756.1,872.0 755.1,872.2 754.1,872.5 753.1,872.9 752.1,873.6 751.1,874.4 750.1,875.4 749.1,876.4 748.1,877.6 747.1,878.9 746.1,880.2 745.1,881.4 744.1,882.6 743.1,883.7 742.1,884.7 741.1,885.7 740.1,886.5 739.1,887.3 738.1,888.0 737.1,888.6 736.1,889.2 735.1,889.6 734.1,890.1 733.1,890.5 732.1,890.9 731.1,891.3 730.1,891.6 729.1,891.9 728.1,892.2 727.1,892.5 726.1,892.8 725.1,893.1 724.1,893.5 723.1,893.8 722.1,894.2 721.1,894.7 720.1,895.1 719.1,895.5 718.1,895.9 717.1,896.2 716.1,896.6 715.1,896.9 714.1,897.1 713.1,897.2 712.1,897.2 711.1,897.2 710.1,897.1 709.1,896.9 708.1,896.7 707.1,896.5 706.1,896.3 705.1,896.1 704.1,895.9 703.1,895.7 702.1,895.5 701.1,895.4 700.1,895.2 699.1,895.1 698.1,895.0 697.1,895.1 696.1,895.2 695.1,895.5 694.1,895.8 693.1,896.2 692.1,896.6 691.1,897.1 690.1,897.6 689.1,898.2 688.1,898.9 687.1,899.7 686.1,900.5 685.1,901.4 684.1,902.3 683.1,903.2 682.1,903.9 681.1,904.1 680.1,904.0 679.1,903.5 678.1,903.0 677.1,902.4 676.1,901.8 675.1,901.2 674.1,900.6 673.1,900.0 672.1,899.4 671.1,898.8 670.1,898.3 669.1,897.7 668.1,897.3 667.1,896.9 666.1,896.5 665.1,896.3 664.1,896.2 663.1,896.2 662.1,896.3 661.1,896.3 660.1,896.5 659.1,896.7 658.1,896.9 657.1,897.0 656.1,897.2 655.1,897.2 654.1,897.2 653.1,897.2 652.1,897.1 651.1,897.1 650.1,897.0 649.1,896.9 648.1,896.8 647.1,896.6 646.1,896.5 645.1,896.4 644.1,896.3 643.1,896.3 642.1,896.3 641.1,896.5 640.1,896.7 639.1,896.9 638.1,897.3 637.1,897.7 636.1,898.2 635.1,898.6 634.1,899.1 633.1,899.6 632.1,900.0 631.1,900.6 630.1,901.1 629.1,901.6 628.1,902.0 627.1,902.5 626.1,902.8 625.1,903.0 624.1,903.2 623.1,903.3 622.1,903.3 621.1,903.3 620.1,903.2 619.1,903.0 618.1,902.7 617.1,902.4 616.1,901.9 615.1,901.4 614.1,900.8 613.1,900.2 612.1,899.6 611.1,898.9 610.1,898.1 609.1,897.2 608.1,896.4 607.1,895.6 606.1,894.9 605.1,894.4 604.1,894.0 603.1,893.7 602.1,893.4 601.1,893.3 600.1,893.3 599.1,893.3 598.1,893.4 597.1,893.6 596.1,893.8 595.1,894.2 594.1,894.6 593.1,895.2 592.1,895.8 591.1,896.4 590.1,897.1 589.1,897.7 588.1,898.3 587.1,899.0 586.1,899.7 585.1,900.3 584.1,901.0 583.1,901.6 582.1,902.3 581.1,902.8 580.1,903.2 579.1,903.6 578.1,903.8 577.1,904.0 576.1,904.2 575.1,904.3 574.1,904.3 573.1,904.2 572.1,904.1 571.1,903.9 570.1,903.6 569.1,903.4 568.1,903.2 567.1,902.9 566.1,902.6 565.1,902.3 564.1,902.0 563.1,901.7 562.1,901.4 561.1,901.1 560.1,900.9 559.1,900.7 558.1,900.6 557.1,900.6 556.1,900.6 555.1,900.6 554.1,900.6 553.1,900.8 552.1,901.0 551.1,901.4 550.1,901.9 549.1,902.5 548.1,903.1 547.1,903.8 546.1,904.6 545.1,905.3 544.1,906.2 543.1,907.0 542.1,907.9 541.1,908.7 540.1,909.5 539.1,910.4 538.1,911.2 537.1,912.1 536.1,912.9 535.1,913.7 534.1,914.6 533.1,915.4 532.1,916.2 531.1,917.0 530.1,917.7 529.1,918.5 528.1,919.2 527.1,919.9 526.1,920.6 525.1,921.3 524.1,921.9 523.1,922.5 522.1,923.0 521.1,923.5 520.1,923.9 519.1,924.2 518.1,924.4 517.1,924.4 516.1,924.4 515.1,924.4 514.1,924.2 513.1,924.1 512.1,923.9 511.1,923.7 510.1,923.5 509.1,923.3 508.1,923.1 507.1,922.9 506.1,922.7 505.1,922.5 504.1,922.3 503.1,922.1 502.1,921.9 501.1,921.7 500.1,921.6 499.1,921.5 498.1,921.4 497.1,921.4 496.1,921.5 495.1,921.7 494.1,921.9 493.1,922.2 492.1,922.6 491.1,923.0 490.1,923.5 489.1,924.0 488.1,924.6 487.1,925.1 486.1,925.6 485.1,926.1 484.1,926.5 483.1,926.8 482.1,927.1 481.1,927.3 480.1,927.4 479.1,927.4 478.1,927.4 477.1,927.3 476.1,927.2 475.1,927.1 474.1,926.9 473.1,926.7 472.1,926.5 471.1,926.3 470.1,926.1 469.1,925.9 468.1,925.8 467.1,925.7 466.1,925.6 465.1,925.5 464.1,925.5 463.1,925.6 462.1,925.7 461.1,925.9 460.1,926.2 459.1,926.4 458.1,926.6 457.1,926.8 456.1,926.9 455.1,927.0 454.1,927.1 453.1,927.1 452.1,926.9 451.1,926.7 450.1,926.4 449.1,926.1 448.1,925.8 447.1,925.4 446.1,925.0 445.1,924.6 444.1,924.2 443.1,923.8 442.1,923.4 441.1,923.0 440.1,922.7 439.1,922.4 438.1,922.2 437.1,922.0 436.1,921.8 435.1,921.6 434.1,921.5 433.1,921.4 432.1,921.3 431.1,921.2 430.1,921.1 429.1,921.0 428.1,920.8 427.1,920.6 426.1,920.3 425.1,919.9 424.1,919.5 423.1,919.0 422.1,918.6 421.1,918.1 420.1,917.6 419.1,917.1 418.1,916.6 417.1,916.2 416.1,915.7 415.1,915.2 414.1,914.8 413.1,914.4 412.1,914.0 411.1,913.7 410.1,913.5 409.1,913.4 408.1,913.4 407.1,913.4 406.1,913.5 405.1,913.6 404.1,913.7 403.1,913.8 402.1,913.9 401.1,913.9 400.1,913.9 399.1,913.9 398.1,913.8 397.1,913.7 396.1,913.5 395.1,913.3 394.1,913.0 393.1,912.7 392.1,912.3 391.1,911.9 390.1,911.4 389.1,910.9 388.1,910.4 387.1,909.9 386.1,909.5 385.1,909.0 384.1,908.6 383.1,908.2 382.1,907.9 381.1,907.5 380.1,907.3 379.1,907.0 378.1,906.9 377.1,906.7 376.1,906.6 375.1,906.5 374.1,906.4 373.1,906.3 372.1,906.3 371.1,906.3 370.1,906.2 369.1,906.2 368.1,906.2 367.1,906.1 366.1,906.0 365.1,905.9 364.1,905.8 363.1,905.7 362.1,905.5 361.1,905.4 360.1,905.2 359.1,905.1 358.1,905.0 357.1,904.9 356.1,904.9 355.1,904.8 354.1,904.8 353.1,904.9 352.1,905.1 351.1,905.4 350.1,905.8 349.1,906.2 348.1,906.8 347.1,907.3 346.1,907.9 345.1,908.4 344.1,909.0 343.1,909.6 342.1,910.1 341.1,910.7 340.1,911.3 339.1,911.8 338.1,912.4 337.1,912.9 336.1,913.3 335.1,913.6 334.1,913.8 333.1,913.9 332.1,913.8 331.1,913.7 330.1,913.5 329.1,913.3 328.1,913.1 327.1,912.8 326.1,912.5 325.1,912.2 324.1,912.0 323.1,911.7 322.1,911.4 321.1,911.3 320.1,911.1 319.1,911.1 318.1,911.1 317.1,911.2 316.1,911.4 315.1,911.7 314.1,912.2 313.1,912.7 312.1,913.4 311.1,914.1 310.1,914.9 309.1,915.8 307.5,918.8 306.1,918.9" fill="#add8e6" fill-opacity="0.22"/>
<polygon points="306.1,906.3 307.5,906.1 309.1,903.0 310.1,902.1 311.1,901.2 312.1,900.4 313.1,899.7 314.1,899.2 315.1,898.7 316.1,898.4 317.1,898.2 318.1,898.1 319.1,898.1 320.1,898.1 321.1,898.3 322.1,898.4 323.1,898.7 324.1,899.0 325.1,899.2 326.1,899.5 327.1,899.8 328.1,900.1 329.1,900.3 330.1,900.5 331.1,900.7 332.1,900.8 333.1,900.9 334.1,900.8 335.1,900.6 336.1,900.3 337.1,899.9 338.1,899.4 339.1,898.8 340.1,898.3 341.1,897.7 342.1,897.1 343.1,896.6 344.1,896.0 345.1,895.4 346.1,894.9 347.1,894.3 348.1,893.8 349.1,893.2 350.1,892.8 351.1,892.4 352.1,892.1 353.1,891.9 354.1,891.8 355.1,891.8 356.1,891.9 357.1,891.9 358.1,892.0 359.1,892.1 360.1,892.2 361.1,892.4 362.1,892.5 363.1,892.7 364.1,892.8 365.1,892.9 366.1,893.0 367.1,893.1 368.1,893.2 369.1,893.2 370.1,893.2 371.1,893.3 372.1,893.3 373.1,893.3 374.1,893.4 375.1,893.5 376.1,893.6 377.1,893.7 378.1,893.9 379.1,894.0 380.1,894.3 381.1,894.5 382.1,894.9 383.1,895.2 384.1,895.6 385.1,896.0 386.1,896.5 387.1,896.9 388.1,897.4 389.1,897.9 390.1,898.4 391.1,898.9 392.1,899.3 393.1,899.7 394.1,900.0 395.1,900.3 396.1,900.5 397.1,900.7 398.1,900.8 399.1,900.9 400.1,900.9 401.1,900.9 402.1,900.9 403.1,900.8 404.1,900.7 405.1,900.6 406.1,900.5 407.1,900.4 408.1,900.4 409.1,900.4 410.1,900.5 411.1,900.7 412.1,901.0 413.1,901.4 414.1,901.8 415.1,902.2 416.1,902.7 417.1,903.2 418.1,903.6 419.1,904.1 420.1,904.6 421.1,905.1 422.1,905.6 423.1,906.0 424.1,906.5 425.1,906.9 426.1,907.3 427.1,907.6 428.1,907.8 429.1,908.0 430.1,908.1 431.1,908.2 432.1,908.3 433.1,908.4 434.1,908.5 435.1,908.6 436.1,908.8 437.1,909.0 438.1,909.2 439.1,909.4 440.1,909.7 441.1,910.0 442.1,910.4 443.1,910.8 444.1,911.2 445.1,911.6 446.1,912.0 447.1,912.4 448.1,912.8 449.1,913.1 450.1,913.4 451.1,913.7 452.1,913.9 453.1,914.1 454.1,914.1 455.1,914.0 456.1,913.9 457.1,913.8 458.1,913.6 459.1,913.4 460.1,913.2 461.1,912.9 462.1,912.7 463.1,912.6 464.1,912.5 465.1,912.5 466.1,912.6 467.1,912.7 468.1,912.8 469.1,912.9 470.1,913.1 471.1,913.3 472.1,913.5 473.1,913.7 474.1,913.9 475.1,914.1 476.1,914.2 477.1,914.3 478.1,914.4 479.1,914.4 480.1,914.4 481.1,914.3 482.1,914.1 483.1,913.8 484.1,913.5 485.1,913.1 486.1,912.6 487.1,912.1 488.1,911.6 489.1,911.0 490.1,910.5 491.1,910.0 492.1,909.6 493.1,909.2 494.1,908.9 495.1,908.7 496.1,908.5 497.1,908.4 498.1,908.4 499.1,908.5 500.1,908.6 501.1,908.7 502.1,908.9 503.1,909.1 504.1,909.3 505.1,909.5 506.1,909.7 507.1,909.9 508.1,910.1 509.1,910.3 510.1,910.5 511.1,910.7 512.1,910.9 513.1,911.1 514.1,911.2 515.1,911.4 516.1,911.4 517.1,911.4 518.1,911.4 519.1,911.2 520.1,910.9 521.1,910.5 522.1,910.0 523.1,909.5 524.1,908.9 525.1,908.3 526.1,907.6 527.1,906.9 528.1,906.2 529.1,905.5 530.1,904.7 531.1,904.0 532.1,903.2 533.1,902.4 534.1,901.6 535.1,900.7 536.1,899.9 537.1,899.1 538.1,898.2 539.1,897.4 540.1,896.5 541.1,895.7 542.1,894.9 543.1,894.0 544.1,893.2 545.1,892.3 546.1,891.6 547.1,890.8 548.1,890.1 549.1,889.5 550.1,888.9 551.1,888.4 552.1,888.0 553.1,887.8 554.1,887.6 555.1,887.6 556.1,887.6 557.1,887.6 558.1,887.6 559.1,887.7 560.1,887.9 561.1,888.1 562.1,888.4 563.1,888.7 564.1,889.0 565.1,889.3 566.1,889.6 567.1,889.9 568.1,890.2 569.1,890.4 570.1,890.6 571.1,890.9 572.1,891.1 573.1,891.2 574.1,891.3 575.1,891.3 576.1,891.2 577.1,891.0 578.1,890.8 579.1,890.6 580.1,890.2 581.1,889.8 582.1,889.3 583.1,888.6 584.1,888.0 585.1,887.3 586.1,886.7 587.1,886.0 588.1,885.3 589.1,884.7 590.1,884.1 591.1,883.4 592.1,882.8 593.1,882.2 594.1,881.6 595.1,881.2 596.1,880.8 597.1,880.6 598.1,880.4 599.1,880.3 600.1,880.3 601.1,880.3 602.1,880.4 603.1,880.7 604.1,881.0 605.1,881.4 606.1,881.9 607.1,882.6 608.1,883.4 609.1,884.2 610.1,885.1 611.1,885.9 612.1,886.6 613.1,887.2 614.1,887.8 615.1,888.4 616.1,888.9 617.1,889.4 618.1,889.7 619.1,890.0 620.1,890.2 621.1,890.3 622.1,890.3 623.1,890.3 624.1,890.2 625.1,890.0 626.1,889.8 627.1,889.5 628.1,889.0 629.1,888.6 630.1,888.1 631.1,887.6 632.1,887.0 633.1,886.6 634.1,886.1 635.1,885.6 636.1,885.2 637.1,884.7 638.1,884.3 639.1,883.9 640.1,883.7 641.1,883.5 642.1,883.3 643.1,883.3 644.1,883.3 645.1,883.4 646.1,883.5 647.1,883.6 648.1,883.8 649.1,883.9 650.1,884.0 651.1,884.1 652.1,884.1 653.1,884.2 654.1,884.2 655.1,884.2 656.1,884.2 657.1,884.0 658.1,883.9 659.1,883.7 660.1,883.5 661.1,883.3 662.1,883.3 663.1,883.2 664.1,883.2 665.1,883.3 666.1,883.5 667.1,883.9 668.1,884.3 669.1,884.7 670.1,885.3 671.1,885.8 672.1,886.4 673.1,887.0 674.1,887.6 675.1,888.2 676.1,888.8 677.1,889.4 678.1,890.0 679.1,890.5 680.1,891.0 681.1,891.1 682.1,890.9 683.1,890.2 684.1,889.3 685.1,888.4 686.1,887.5 687.1,886.7 688.1,885.9 689.1,885.2 690.1,884.6 691.1,884.1 692.1,883.6 693.1,883.2 694.1,882.8 695.1,882.5 696.1,882.2 697.1,882.1 698.1,882.0 699.1,882.1 700.1,882.2 701.1,882.4 702.1,882.5 703.1,882.7 704.1,882.9 705.1,883.1 706.1,883.3 707.1,883.5 708.1,883.7 709.1,883.9 710.1,884.1 711.1,884.2 712.1,884.2 713.1,884.2 714.1,884.1 715.1,883.9 716.1,883.6 717.1,883.2 718.1,882.9 719.1,882.5 720.1,882.1 721.1,881.7 722.1,881.2 723.1,880.8 724.1,880.5 725.1,880.1 726.1,879.8 727.1,879.5 728.1,879.2 729.1,878.9 730.1,878.6 731.1,878.3 732.1,877.9 733.1,877.5 734.1,877.1 735.1,876.6 736.1,876.2 737.1,875.6 738.1,875.0 739.1,874.3 740.1,873.5 741.1,872.7 742.1,871.7 743.1,870.7 744.1,869.6 745.1,868.4 746.1,867.2 747.1,865.9 748.1,864.6 749.1,863.4 750.1,862.4 751.1,861.4 752.1,860.6 753.1,859.9 754.1,859.5 755.1,859.2 756.1,859.0 757.1,858.8 758.1,858.6 759.1,858.5 760.1,858.4 761.1,858.4 762.1,858.3 763.1,858.1 764.1,858.0 765.1,857.8 766.1,857.6 767.1,857.3 768.1,856.9 769.1,856.3 770.1,855.6 771.1,854.9 772.1,854.2 773.1,853.5 774.1,852.8 775.1,852.1 776.1,851.4 777.1,850.7 778.1,850.0 779.1,849.3 780.1,848.6 781.1,847.9 782.1,847.3 783.1,846.8 784.1,846.4 785.1,846.0 786.1,845.8 787.1,845.7 788.1,845.6 789.1,845.5 790.1,845.4 791.1,845.3 792.1,845.2 793.1,845.0 794.1,844.8 795.1,844.6 796.1,844.3 797.1,844.0 798.1,843.5 799.1,842.9 800.1,842.0 801.1,841.0 802.1,839.9 803.1,838.6 804.1,837.2 805.1,835.6 806.1,834.0 807.1,832.1 808.1,830.2 809.1,828.2 810.1,826.0 811.1,823.8 812.1,821.5 813.1,819.1 814.1,816.5 815.1,813.7 816.1,810.8 817.1,808.1 818.1,806.1 819.1,804.9 820.1,804.2 821.1,803.8 822.1,803.5 823.1,803.1 824.1,802.7 825.1,802.2 826.1,801.7 827.1,801.2 828.1,800.7 829.1,800.2 830.1,799.7 831.1,799.2 832.1,798.7 833.1,798.2 834.1,797.7 835.1,797.2 836.1,796.8 837.1,796.4 838.1,796.1 839.1,795.8 840.1,795.6 841.1,795.3 842.1,795.1 843.1,794.9 844.1,794.8 845.1,794.7 846.1,794.7 847.1,794.9 848.1,795.1 849.1,795.3 850.1,795.5 851.1,795.7 852.1,795.9 853.1,796.1 854.1,796.3 855.1,796.5 856.1,796.7 857.1,796.9 858.1,797.0 859.1,797.2 860.1,797.3 861.1,797.3 862.1,797.3 863.1,797.3 864.1,797.3 865.1,797.2 866.1,797.1 867.1,796.9 868.1,796.7 869.1,796.3 870.1,795.9 871.1,795.4 872.1,794.9 873.1,794.3 874.1,793.8 875.1,793.4 876.1,793.0 877.1,792.6 878.1,792.2 879.1,791.9 880.1,791.6 881.1,791.3 882.1,791.0 883.1,790.8 884.1,790.6 885.1,790.4 886.1,790.3 887.1,790.4 888.1,790.6 889.1,790.9 890.1,791.4 891.1,792.0 892.1,792.8 893.1,793.6 894.1,794.4 895.1,795.2 896.1,796.0 897.1,796.7 898.1,797.5 899.1,798.2 900.1,798.9 901.1,799.6 902.1,800.2 903.1,800.9 904.1,801.6 905.1,802.2 906.1,802.8 907.1,803.3 908.1,803.8 909.1,804.2 910.1,804.5 911.1,804.6 912.1,804.6 913.1,804.5 914.1,804.2 915.1,803.9 916.1,803.5 917.1,803.2 918.1,802.8 919.1,802.5 920.1,802.2 921.1,801.9 922.1,801.6 923.1,801.4 924.1,801.2 925.1,801.1 926.1,801.1 927.1,801.3 928.1,801.5 929.1,801.8 930.1,802.0 931.1,802.3 932.1,802.6 933.1,802.9 934.1,803.2 935.1,803.5 936.1,803.8 937.1,804.1 938.1,804.5 939.1,805.3 940.1,805.9 941.1,806.3 942.1,806.5 943.1,806.8 944.1,807.1 945.1,807.4 946.1,807.8 947.1,808.3 948.1,808.8 949.1,809.4 950.1,810.1 951.1,810.7 952.1,811.4 953.1,812.0 954.1,812.5 955.1,813.1 956.1,813.5 957.1,813.9 958.1,814.1 959.1,814.2 960.1,814.2 961.1,814.1 962.1,814.0 963.1,813.8 964.1,813.5 965.1,813.2 966.1,812.9 967.1,812.4 968.1,811.9 969.1,811.4 970.1,810.8 971.1,810.2 972.1,809.6 973.1,809.0 974.1,808.4 975.1,807.8 976.1,807.2 977.1,806.6 978.1,806.1 979.1,805.5 980.1,805.0 981.1,804.5 982.1,804.1 983.1,803.9 984.1,803.8 985.1,803.6 986.1,803.6 987.1,803.5 988.1,803.4 989.1,803.4 990.1,803.3 991.1,803.2 992.1,802.9 993.1,802.4 994.1,801.4 995.1,800.1 996.1,798.6 997.1,797.0 998.1,795.3 999.1,793.6 1000.1,791.8 1001.1,789.9 1002.1,787.9 1003.1,785.7 1004.1,783.5 1005.1,781.2 1006.1,778.9 1007.1,776.7 1008.1,774.3 1009.1,771.7 1010.1,768.8 1011.1,765.7 1012.1,762.7 1013.1,759.9 1014.1,757.3 1015.1,754.9 1016.1,752.5 1017.1,750.2 1018.1,747.8 1019.1,745.3 1020.1,742.7 1021.1,740.1 1022.1,737.6 1023.1,735.5 1024.1,733.9 1025.1,732.9 1026.1,732.0 1027.1,731.1 1028.1,730.2 1029.1,729.4 1030.1,728.6 1031.1,727.8 1032.1,727.0 1033.1,726.2 1034.1,725.4 1035.1,724.6 1036.1,723.8 1037.1,723.1 1038.1,722.5 1039.1,721.9 1040.1,721.4 1041.1,720.9 1042.1,720.5 1043.1,720.2 1044.1,720.0 1045.1,719.7 1046.1,719.4 1047.1,719.0 1048.1,718.5 1049.1,717.9 1050.1,717.3 1051.1,716.6 1052.1,715.9 1053.1,715.1 1054.1,714.2 1055.1,713.3 1056.1,712.3 1057.1,711.4 1058.1,710.8 1059.1,710.3 1060.1,710.1 1061.1,710.0 1062.1,710.1 1063.1,710.3 1064.1,710.6 1065.1,711.0 1066.1,711.5 1067.1,712.1 1068.1,712.8 1069.1,713.7 1070.1,714.5 1071.1,715.4 1072.1,716.4 1073.1,717.4 1074.1,718.4 1075.1,719.5 1076.1,720.6 1077.1,721.8 1078.1,722.8 1079.1,723.8 1080.1,724.7 1081.1,725.5 1082.1,726.2 1083.1,726.8 1084.1,727.4 1085.1,727.8 1086.1,728.0 1087.1,728.1 1088.1,728.0 1089.1,727.6 1090.1,727.0 1091.1,726.4 1092.1,725.9 1093.1,725.8 1094.1,726.0 1095.1,726.5 1096.1,727.2 1097.1,728.0 1098.1,729.1 1099.1,730.2 1100.1,731.3 1101.1,732.5 1102.1,733.5 1103.1,734.6 1104.1,735.6 1105.1,736.6 1106.1,737.6 1107.1,738.6 1108.1,739.5 1109.1,740.5 1110.1,741.5 1111.1,742.4 1112.1,743.3 1113.1,744.0 1114.1,744.8 1115.1,745.5 1116.1,746.2 1117.1,746.9 1118.1,747.6 1119.1,748.3 1120.1,749.0 1121.1,749.7 1122.1,750.4 1123.1,751.1 1124.1,751.8 1125.1,752.5 1126.1,753.3 1127.1,753.8 1128.1,753.5 1129.1,752.2 1130.1,750.3 1131.1,748.5 1132.1,746.8 1133.1,745.2 1134.1,743.6 1135.1,742.1 1136.1,740.7 1137.1,739.5 1138.1,738.3 1139.1,737.1 1140.1,736.0 1141.1,734.8 1142.1,733.5 1143.1,732.2 1144.1,731.0 1145.1,729.6 1146.1,728.3 1147.1,726.9 1148.1,725.5 1149.1,724.0 1150.1,722.4 1151.1,720.7 1152.1,718.8 1153.1,716.9 1154.1,715.0 1155.1,712.9 1156.1,710.9 1157.1,708.9 1158.1,706.9 1159.1,705.0 1160.1,703.1 1161.1,701.2 1162.1,699.5 1163.1,697.9 1164.1,696.6 1165.1,695.5 1166.1,694.7 1167.1,694.0 1168.1,693.3 1169.1,692.8 1170.1,692.3 1171.1,691.9 1172.1,691.5 1173.1,691.1 1174.1,690.8 1175.1,690.5 1176.1,690.4 1177.1,690.3 1178.1,690.4 1179.1,690.6 1180.1,690.9 1181.1,691.2 1182.1,691.6 1183.1,691.9 1184.1,692.3 1185.1,692.7 1186.1,693.1 1187.1,693.5 1188.1,693.9 1189.1,694.3 1190.1,694.5 1191.1,694.7 1192.1,694.7 1193.1,694.8 1194.1,694.7 1195.1,694.6 1196.1,694.4 1197.1,694.1 1198.1,693.6 1199.1,692.9 1200.1,692.1 1201.1,691.2 1202.1,690.2 1203.1,689.3 1204.1,688.4 1205.1,687.5 1206.1,686.7 1207.1,685.9 1208.1,685.1 1209.1,684.3 1210.1,683.6 1211.1,683.0 1212.1,682.5 1213.1,682.0 1214.1,681.7 1215.1,681.5 1216.1,681.4 1217.1,681.3 1218.1,681.2 1219.1,681.1 1220.1,681.0 1221.1,680.9 1222.1,680.8 1223.1,680.7 1224.1,680.6 1225.1,680.5 1226.1,680.4 1227.1,680.3 1228.1,680.1 1229.1,679.9 1230.1,679.7 1231.1,679.5 1232.1,679.2 1233.1,679.1 1234.1,678.9 1235.1,678.8 1236.1,678.7 1237.1,678.7 1238.1,678.8 1239.1,679.1 1240.1,679.4 1241.1,679.8 1242.1,680.3 1243.1,680.8 1244.1,681.3 1245.1,681.8 1246.1,682.3 1247.1,682.8 1248.1,683.2 1249.1,683.6 1250.1,684.0 1251.1,684.4 1252.1,684.7 1253.1,685.0 1254.1,685.2 1255.1,685.3 1256.1,685.3 1257.1,685.3 1258.1,685.3 1259.1,685.2 1260.1,685.1 1261.1,685.0 1262.1,684.9 1263.1,684.8 1264.1,684.7 1265.1,684.6 1266.1,684.6 1267.1,684.6 1268.1,684.7 1269.1,684.9 1270.1,685.4 1271.1,686.1 1272.1,686.9 1273.1,687.9 1274.1,688.9 1275.1,689.9 1276.1,690.9 1277.1,691.9 1278.1,692.9 1279.1,693.9 1280.1,694.8 1281.1,695.8 1282.1,696.7 1283.1,697.5 1284.1,698.4 1285.1,699.2 1286.1,699.9 1287.1,700.6 1288.1,701.3 1289.1,702.0 1290.1,702.6 1291.1,703.3 1292.1,703.9 1293.1,704.4 1294.1,705.0 1295.1,705.6 1296.1,706.4 1297.1,707.4 1298.1,708.4 1299.1,709.1 1300.1,709.6 1301.1,710.4 1302.1,711.5 1303.1,712.7 1304.1,713.8 1305.1,714.9 1306.1,715.8 1307.1,716.7 1308.1,717.6 1309.1,718.4 1310.1,719.1 1311.1,719.8 1312.1,720.3 1313.1,720.8 1314.1,721.3 1315.1,721.8 1316.1,722.3 1317.1,722.8 1318.1,723.3 1319.1,723.8 1320.1,724.3 1321.1,724.8 1322.1,725.3 1323.1,725.9 1324.1,726.6 1325.1,727.4 1326.1,728.3 1327.1,729.2 1328.1,730.1 1329.1,731.1 1330.1,732.1 1331.1,733.1 1332.1,734.1 1333.1,735.1 1334.1,736.0 1335.1,736.9 1336.1,737.8 1337.1,738.5 1338.1,739.3 1339.1,739.9 1340.1,740.5 1341.1,741.0 1342.1,741.5 1343.1,742.0 1344.1,742.4 1345.1,742.8 1346.1,743.2 1347.1,743.6 1348.1,744.0 1349.1,744.4 1350.1,744.9 1351.1,745.4 1352.1,745.9 1353.1,746.6 1354.1,747.4 1355.1,748.3 1356.1,749.3 1357.1,750.3 1358.1,751.4 1359.1,752.6 1360.1,753.7 1361.1,754.8 1362.1,755.8 1363.1,756.8 1364.1,757.8 1365.1,758.8 1366.1,759.8 1367.1,760.7 1368.1,761.6 1369.1,762.3 1370.1,763.0 1371.1,763.6 1372.1,764.1 1373.1,764.5 1374.1,764.7 1375.1,764.7 1376.1,764.7 1377.0,763.9 1377.8,763.9 1378.6,763.3 1379.4,762.6 1380.1,762.0 1380.9,761.3 1381.7,760.7 1382.5,760.1 1383.3,759.5 1384.1,759.0 1384.8,758.1 1385.6,757.3 1386.4,756.6 1387.2,756.0 1388.0,755.2 1388.8,754.4 1389.5,753.8 1390.3,752.8 1391.1,752.4 1391.9,751.6 1392.7,750.8 1393.5,749.8 1394.2,749.2 1395.0,748.2 1395.8,747.2 1396.6,746.2 1397.4,745.1 1398.2,744.1 1399.0,743.7 1399.7,742.5 1400.5,741.5 1401.3,740.7 1402.1,738.8 1402.9,738.0 1403.7,737.2 1404.4,736.1 1405.2,734.8 1406.0,734.1 1406.8,732.8 1407.6,731.2 1408.4,730.2 1409.1,729.7 1409.9,728.5 1410.7,726.6 1411.5,726.6 1412.3,725.3 1413.1,724.4 1413.8,722.7 1414.6,721.6 1415.4,720.2 1416.2,720.6 1417.0,718.4 1417.8,718.0 1418.6,716.0 1419.3,715.2 1420.1,713.3 1420.9,712.8 1421.7,712.3 1422.5,710.1 1423.3,710.0 1424.0,708.4 1424.8,706.4 1425.6,705.4 1426.4,704.2 1427.2,703.2 1428.0,701.6 1428.7,700.2 1429.5,699.3 1430.3,697.6 1431.1,696.2 1431.9,695.6 1432.7,694.9 1433.4,692.1 1434.2,690.8 1435.0,688.2 1435.8,685.8 1436.6,684.7 1437.4,681.6 1438.2,680.7 1438.9,677.1 1439.7,675.6 1440.5,673.0 1441.3,670.4 1442.1,669.1 1442.9,666.4 1443.6,664.7 1444.4,662.1 1445.2,659.1 1446.0,657.6 1446.8,655.5 1447.6,654.0 1448.3,650.4 1449.1,648.9 1449.9,645.4 1450.7,645.0 1451.5,641.4 1452.3,638.6 1453.0,637.8 1453.8,636.5 1454.6,632.2 1455.4,630.3 1456.2,628.4 1457.0,625.9 1457.8,624.9 1458.5,621.7 1459.3,619.7 1460.1,618.7 1460.9,615.4 1461.7,614.3 1462.5,610.9 1463.2,608.8 1464.0,606.3 1464.8,607.9 1465.6,604.0 1466.4,602.6 1467.2,600.8 1467.9,599.7 1468.7,598.3 1469.5,598.8 1470.3,594.6 1471.1,592.8 1471.9,591.9 1472.6,589.6 1473.4,589.9 1474.2,588.0 1475.0,584.3 1475.8,582.0 1476.6,581.5 1477.4,581.8 1478.1,575.7 1478.9,577.7 1479.7,574.4 1480.5,574.2 1481.3,568.7 1482.1,566.5 1482.8,562.5 1483.6,561.1 1484.4,561.8 1485.2,559.2 1486.0,555.4 1486.8,550.7 1487.5,545.3 1488.3,542.9 1489.1,541.7 1489.9,540.1 1490.7,538.5 1491.5,535.7 1492.2,533.9 1493.0,530.3 1493.8,528.2 1494.6,525.6 1495.4,520.0 1496.2,516.0 1497.0,514.2 1497.7,511.4 1498.5,509.1 1499.3,507.9 1500.1,504.8 1500.9,505.0 1501.7,502.2 1502.4,500.8 1503.2,498.3 1504.0,495.3 1504.8,492.7 1505.6,491.3 1506.4,488.5 1507.1,487.7 1507.9,485.8 1508.7,482.4 1509.5,482.8 1510.3,478.8 1511.1,477.1 1511.8,474.8 1512.6,469.5 1513.4,469.8 1514.2,466.7 1515.0,463.2 1515.8,459.7 1516.6,456.6 1517.3,453.8 1518.1,453.1 1518.9,450.3 1519.7,448.7 1520.5,444.2 1521.3,443.8 1522.0,441.1 1522.8,438.1 1523.6,435.3 1524.4,435.0 1525.2,429.8 1526.0,431.3 1526.7,429.1 1527.5,427.3 1528.3,425.7 1529.1,422.0 1529.9,420.7 1530.7,420.2 1531.4,417.9 1532.2,415.5 1533.0,410.6 1533.8,411.9 1534.6,410.8 1535.4,408.5 1536.2,405.1 1536.9,399.8 1537.7,401.1 1538.5,396.5 1539.3,389.6 1540.1,391.7 1540.9,385.6 1541.6,382.4 1542.4,380.1 1543.2,379.9 1544.0,373.5 1544.8,371.7 1545.6,371.6 1546.3,368.6 1547.1,362.8 1547.9,359.4 1548.7,354.0 1549.5,351.5 1550.3,350.0 1551.0,347.1 1551.8,345.4 1552.6,345.8 1553.4,341.4 1554.2,341.5 1555.0,340.6 1555.8,338.0 1556.5,336.6 1557.3,333.0 1558.1,330.1 1558.9,330.1 1559.7,326.3 1560.5,323.8 1561.2,326.8 1562.0,324.4 1562.8,324.1 1563.6,319.1 1564.4,320.7 1565.2,319.2 1565.9,317.6 1566.7,313.7 1567.5,315.6 1568.3,316.1 1569.1,313.1 1569.9,309.1 1570.6,308.7 1571.4,308.7 1572.2,299.9 1573.0,303.7 1573.8,303.6 1574.6,302.3 1575.4,302.7 1576.1,299.5 1576.9,295.9 1577.7,293.9 1578.5,293.1 1579.3,289.0 1580.1,288.7 1580.8,289.4 1581.6,290.4 1582.4,284.5 1583.2,283.5 1584.0,283.9 1584.8,282.3 1585.5,275.1 1586.3,274.2 1587.1,267.6 1587.9,268.0 1588.7,266.6 1589.5,267.5 1590.2,267.1 1591.0,261.1 1591.8,262.1 1592.6,264.6 1593.4,257.6 1594.2,251.3 1595.0,256.6 1595.7,254.9 1596.5,254.3 1597.3,251.6 1598.1,249.8 1598.9,243.4 1599.7,246.1 1600.4,241.0 1601.2,240.8 1602.0,242.9 1602.8,238.1 1603.6,238.0 1604.4,233.0 1605.1,225.1 1605.9,227.4 1606.7,227.3 1607.5,231.4 1608.3,222.3 1609.1,221.4 1609.8,224.5 1610.6,226.1 1611.4,224.5 1612.2,218.2 1613.0,217.0 1613.8,218.7 1614.6,213.0 1615.3,209.3 1616.1,210.6 1616.9,210.1 1617.7,205.5 1618.5,202.6 1619.3,203.0 1620.0,208.2 1620.8,204.4 1621.6,205.9 1622.4,205.1 1623.2,204.1 1624.0,199.5 1624.7,199.6 1625.5,194.1 1626.3,195.1 1627.1,192.9 1627.9,198.2 1628.7,193.6 1629.4,190.1 1630.2,189.6 1631.0,188.4 1631.8,189.3 1632.6,181.5 1633.4,182.1 1634.2,183.0 1634.9,189.8 1635.7,184.5 1636.5,180.6 1637.3,181.8 1638.1,184.2 1638.9,176.3 1639.6,174.4 1640.4,178.3 1641.2,177.5 1642.0,177.5 1642.8,173.4 1643.6,179.4 1644.3,178.1 1645.1,176.0 1645.9,177.7 1646.7,169.8 1647.5,176.1 1648.3,172.5 1649.0,173.0 1649.8,174.1 1650.6,172.2 1651.4,169.1 1652.2,175.4 1653.0,172.6 1653.8,173.9 1654.5,172.1 1655.3,171.9 1656.1,165.3 1656.9,175.8 1657.7,173.2 1658.5,175.8 1659.2,175.5 1660.0,166.8 1660.8,159.4 1661.6,163.5 1662.4,163.5 1662.4,165.6 1662.4,322.4 1662.4,318.3 1661.6,322.4 1660.8,324.3 1660.0,327.7 1659.2,325.8 1658.5,325.4 1657.7,326.8 1656.9,327.2 1656.1,327.0 1655.3,328.2 1654.5,328.2 1653.8,327.5 1653.0,328.5 1652.2,327.1 1651.4,326.5 1650.6,326.4 1649.8,330.2 1649.0,331.6 1648.3,329.3 1647.5,327.0 1646.7,328.9 1645.9,330.0 1645.1,334.4 1644.3,332.2 1643.6,332.0 1642.8,334.9 1642.0,334.6 1641.2,331.4 1640.4,336.0 1639.6,332.1 1638.9,332.4 1638.1,335.9 1637.3,334.5 1636.5,337.1 1635.7,338.0 1634.9,343.2 1634.2,341.4 1633.4,339.8 1632.6,342.3 1631.8,343.4 1631.0,342.6 1630.2,343.8 1629.4,347.8 1628.7,346.8 1627.9,345.1 1627.1,348.7 1626.3,346.6 1625.5,349.1 1624.7,348.1 1624.0,352.4 1623.2,353.0 1622.4,353.4 1621.6,353.5 1620.8,356.1 1620.0,354.9 1619.3,353.5 1618.5,355.2 1617.7,356.6 1616.9,358.1 1616.1,360.7 1615.3,357.8 1614.6,358.6 1613.8,360.3 1613.0,362.1 1612.2,364.3 1611.4,362.6 1610.6,362.9 1609.8,363.5 1609.1,364.9 1608.3,365.4 1607.5,367.0 1606.7,368.1 1605.9,369.7 1605.1,372.2 1604.4,368.4 1603.6,372.2 1602.8,373.1 1602.0,377.4 1601.2,376.0 1600.4,377.5 1599.7,379.8 1598.9,378.6 1598.1,379.5 1597.3,379.2 1596.5,382.1 1595.7,383.4 1595.0,385.5 1594.2,382.7 1593.4,388.8 1592.6,391.0 1591.8,390.7 1591.0,394.7 1590.2,396.0 1589.5,392.5 1588.7,395.4 1587.9,396.2 1587.1,395.5 1586.3,399.9 1585.5,398.3 1584.8,401.2 1584.0,400.3 1583.2,403.5 1582.4,405.3 1581.6,407.1 1580.8,407.3 1580.1,408.6 1579.3,410.1 1578.5,411.6 1577.7,414.3 1576.9,412.7 1576.1,413.7 1575.4,416.7 1574.6,419.8 1573.8,418.5 1573.0,416.0 1572.2,419.0 1571.4,421.9 1570.6,421.0 1569.9,425.2 1569.1,427.9 1568.3,427.2 1567.5,428.8 1566.7,429.8 1565.9,431.5 1565.2,430.4 1564.4,429.6 1563.6,432.0 1562.8,432.5 1562.0,434.2 1561.2,432.0 1560.5,437.3 1559.7,436.0 1558.9,437.0 1558.1,436.4 1557.3,438.5 1556.5,438.1 1555.8,439.0 1555.0,441.5 1554.2,443.2 1553.4,447.0 1552.6,448.4 1551.8,451.1 1551.0,450.4 1550.3,452.7 1549.5,454.8 1548.7,454.3 1547.9,457.1 1547.1,460.9 1546.3,463.3 1545.6,466.4 1544.8,469.3 1544.0,468.9 1543.2,471.8 1542.4,477.0 1541.6,478.4 1540.9,478.8 1540.1,482.5 1539.3,481.2 1538.5,483.4 1537.7,487.9 1536.9,489.9 1536.2,490.5 1535.4,491.9 1534.6,494.2 1533.8,493.7 1533.0,498.5 1532.2,498.2 1531.4,501.3 1530.7,502.2 1529.9,503.2 1529.1,504.0 1528.3,504.3 1527.5,506.5 1526.7,507.6 1526.0,506.4 1525.2,508.6 1524.4,510.9 1523.6,512.5 1522.8,514.3 1522.0,514.4 1521.3,515.8 1520.5,517.5 1519.7,520.3 1518.9,521.0 1518.1,522.8 1517.3,525.1 1516.6,527.2 1515.8,528.3 1515.0,531.9 1514.2,531.3 1513.4,533.2 1512.6,536.0 1511.8,537.4 1511.1,540.0 1510.3,540.4 1509.5,542.7 1508.7,544.2 1507.9,546.5 1507.1,545.8 1506.4,548.4 1505.6,550.3 1504.8,550.8 1504.0,554.9 1503.2,555.5 1502.4,555.9 1501.7,557.8 1500.9,561.4 1500.1,560.8 1499.3,561.9 1498.5,564.4 1497.7,565.9 1497.0,567.8 1496.2,569.5 1495.4,572.2 1494.6,574.4 1493.8,577.5 1493.0,580.8 1492.2,582.3 1491.5,585.6 1490.7,585.7 1489.9,588.5 1489.1,590.5 1488.3,593.3 1487.5,595.3 1486.8,598.9 1486.0,599.6 1485.2,602.6 1484.4,604.9 1483.6,607.4 1482.8,610.4 1482.1,611.8 1481.3,611.3 1480.5,614.1 1479.7,616.1 1478.9,616.5 1478.1,619.1 1477.4,618.9 1476.6,622.2 1475.8,621.6 1475.0,624.8 1474.2,625.3 1473.4,626.2 1472.6,629.0 1471.9,630.2 1471.1,632.1 1470.3,633.7 1469.5,635.7 1468.7,636.0 1467.9,638.2 1467.2,638.8 1466.4,641.0 1465.6,642.4 1464.8,643.3 1464.0,645.8 1463.2,647.4 1462.5,648.3 1461.7,649.9 1460.9,651.7 1460.1,653.1 1459.3,654.1 1458.5,655.5 1457.8,658.7 1457.0,659.0 1456.2,659.9 1455.4,661.7 1454.6,662.3 1453.8,664.0 1453.0,666.6 1452.3,667.2 1451.5,669.7 1450.7,670.8 1449.9,672.9 1449.1,673.7 1448.3,675.7 1447.6,676.8 1446.8,678.6 1446.0,680.4 1445.2,681.1 1444.4,682.8 1443.6,683.8 1442.9,685.7 1442.1,687.2 1441.3,688.9 1440.5,690.1 1439.7,691.6 1438.9,693.9 1438.2,694.3 1437.4,695.3 1436.6,696.4 1435.8,697.9 1435.0,699.3 1434.2,699.8 1433.4,700.8 1432.7,701.4 1431.9,703.7 1431.1,704.4 1430.3,705.4 1429.5,707.6 1428.7,708.8 1428.0,709.6 1427.2,710.7 1426.4,711.7 1425.6,713.3 1424.8,714.3 1424.0,715.7 1423.3,716.6 1422.5,718.4 1421.7,719.2 1420.9,720.0 1420.1,721.3 1419.3,722.0 1418.6,723.3 1417.8,724.2 1417.0,724.8 1416.2,726.4 1415.4,727.7 1414.6,728.0 1413.8,729.3 1413.1,730.5 1412.3,730.9 1411.5,732.6 1410.7,733.3 1409.9,734.0 1409.1,735.4 1408.4,736.4 1407.6,737.4 1406.8,738.3 1406.0,739.6 1405.2,740.4 1404.4,741.3 1403.7,742.7 1402.9,743.3 1402.1,744.3 1401.3,745.4 1400.5,746.3 1399.7,747.5 1399.0,748.3 1398.2,749.0 1397.4,749.5 1396.6,750.6 1395.8,751.4 1395.0,752.2 1394.2,752.8 1393.5,753.6 1392.7,754.2 1391.9,754.9 1391.1,755.6 1390.3,756.4 1389.5,757.1 1388.8,758.0 1388.0,758.6 1387.2,759.2 1386.4,760.0 1385.6,760.7 1384.8,761.4 1384.1,762.1 1383.3,762.8 1382.5,763.6 1381.7,764.2 1380.9,764.9 1380.1,765.6 1379.4,766.3 1378.6,767.1 1377.8,767.8 1377.0,767.8 1376.1,767.7 1375.1,767.7 1374.1,767.7 1373.1,767.5 1372.1,767.1 1371.1,766.6 1370.1,766.0 1369.1,765.3 1368.1,764.6 1367.1,763.7 1366.1,762.8 1365.1,761.8 1364.1,760.8 1363.1,759.8 1362.1,758.8 1361.1,757.8 1360.1,756.7 1359.1,755.6 1358.1,754.4 1357.1,753.3 1356.1,752.3 1355.1,751.3 1354.1,750.4 1353.1,749.6 1352.1,748.9 1351.1,748.4 1350.1,747.9 1349.1,747.4 1348.1,747.0 1347.1,746.6 1346.1,746.2 1345.1,745.8 1344.1,745.4 1343.1,745.0 1342.1,744.5 1341.1,744.0 1340.1,743.5 1339.1,742.9 1338.1,742.3 1337.1,741.5 1336.1,740.8 1335.1,739.9 1334.1,739.0 1333.1,738.1 1332.1,737.1 1331.1,736.1 1330.1,735.1 1329.1,734.1 1328.1,733.1 1327.1,732.2 1326.1,731.3 1325.1,730.4 1324.1,729.6 1323.1,728.9 1322.1,728.3 1321.1,727.8 1320.1,727.3 1319.1,726.8 1318.1,726.3 1317.1,725.8 1316.1,725.3 1315.1,724.8 1314.1,724.3 1313.1,723.8 1312.1,723.3 1311.1,722.8 1310.1,722.1 1309.1,721.4 1308.1,720.6 1307.1,719.7 1306.1,718.8 1305.1,717.9 1304.1,716.8 1303.1,715.7 1302.1,714.5 1301.1,713.4 1300.1,712.6 1299.1,712.1 1298.1,711.4 1297.1,710.4 1296.1,709.4 1295.1,708.6 1294.1,708.0 1293.1,707.4 1292.1,706.9 1291.1,706.3 1290.1,705.6 1289.1,705.0 1288.1,704.3 1287.1,703.6 1286.1,702.9 1285.1,702.2 1284.1,701.4 1283.1,700.5 1282.1,699.7 1281.1,698.8 1280.1,697.8 1279.1,696.9 1278.1,695.9 1277.1,694.9 1276.1,693.9 1275.1,692.9 1274.1,691.9 1273.1,690.9 1272.1,689.9 1271.1,689.1 1270.1,688.4 1269.1,687.9 1268.1,687.7 1267.1,687.6 1266.1,687.6 1265.1,687.6 1264.1,687.7 1263.1,687.8 1262.1,687.9 1261.1,688.0 1260.1,688.1 1259.1,688.2 1258.1,688.3 1257.1,688.3 1256.1,688.3 1255.1,688.3 1254.1,688.2 1253.1,688.0 1252.1,687.7 1251.1,687.4 1250.1,687.0 1249.1,686.6 1248.1,686.2 1247.1,685.8 1246.1,685.3 1245.1,684.8 1244.1,684.3 1243.1,683.8 1242.1,683.3 1241.1,682.8 1240.1,682.4 1239.1,682.1 1238.1,681.8 1237.1,681.7 1236.1,681.7 1235.1,681.8 1234.1,681.9 1233.1,682.1 1232.1,682.2 1231.1,682.5 1230.1,682.7 1229.1,682.9 1228.1,683.1 1227.1,683.3 1226.1,683.4 1225.1,683.5 1224.1,683.6 1223.1,683.7 1222.1,683.8 1221.1,683.9 1220.1,684.0 1219.1,684.1 1218.1,684.2 1217.1,684.3 1216.1,684.4 1215.1,684.5 1214.1,684.7 1213.1,685.0 1212.1,685.5 1211.1,686.0 1210.1,686.6 1209.1,687.3 1208.1,688.1 1207.1,688.9 1206.1,689.7 1205.1,690.5 1204.1,691.4 1203.1,692.3 1202.1,693.2 1201.1,694.2 1200.1,695.1 1199.1,695.9 1198.1,696.6 1197.1,697.1 1196.1,697.4 1195.1,697.6 1194.1,697.7 1193.1,697.8 1192.1,697.7 1191.1,697.7 1190.1,697.5 1189.1,697.3 1188.1,696.9 1187.1,696.5 1186.1,696.1 1185.1,695.7 1184.1,695.3 1183.1,694.9 1182.1,694.6 1181.1,694.2 1180.1,693.9 1179.1,693.6 1178.1,693.4 1177.1,693.3 1176.1,693.4 1175.1,693.5 1174.1,693.8 1173.1,694.1 1172.1,694.5 1171.1,694.9 1170.1,695.3 1169.1,695.8 1168.1,696.3 1167.1,697.0 1166.1,697.7 1165.1,698.5 1164.1,699.6 1163.1,700.9 1162.1,702.5 1161.1,704.2 1160.1,706.1 1159.1,708.0 1158.1,709.9 1157.1,711.9 1156.1,713.9 1155.1,715.9 1154.1,718.0 1153.1,719.9 1152.1,721.8 1151.1,723.7 1150.1,725.4 1149.1,727.0 1148.1,728.5 1147.1,729.9 1146.1,731.3 1145.1,732.6 1144.1,734.0 1143.1,735.2 1142.1,736.5 1141.1,737.8 1140.1,739.0 1139.1,740.1 1138.1,741.3 1137.1,742.5 1136.1,743.7 1135.1,745.1 1134.1,746.6 1133.1,748.2 1132.1,749.8 1131.1,751.5 1130.1,753.3 1129.1,755.2 1128.1,756.5 1127.1,756.8 1126.1,756.3 1125.1,755.5 1124.1,754.8 1123.1,754.1 1122.1,753.4 1121.1,752.7 1120.1,752.0 1119.1,751.3 1118.1,750.6 1117.1,749.9 1116.1,749.2 1115.1,748.5 1114.1,747.8 1113.1,747.0 1112.1,746.3 1111.1,745.4 1110.1,744.5 1109.1,743.5 1108.1,742.5 1107.1,741.6 1106.1,740.6 1105.1,739.6 1104.1,738.6 1103.1,737.6 1102.1,736.5 1101.1,735.5 1100.1,734.3 1099.1,733.2 1098.1,732.1 1097.1,731.0 1096.1,730.2 1095.1,729.5 1094.1,729.0 1093.1,728.8 1092.1,728.9 1091.1,729.4 1090.1,730.0 1089.1,730.6 1088.1,731.0 1087.1,731.1 1086.1,731.0 1085.1,730.8 1084.1,730.4 1083.1,729.8 1082.1,729.2 1081.1,728.5 1080.1,727.7 1079.1,726.8 1078.1,725.8 1077.1,724.8 1076.1,723.6 1075.1,722.5 1074.1,721.4 1073.1,720.4 1072.1,719.4 1071.1,718.4 1070.1,717.5 1069.1,716.7 1068.1,715.8 1067.1,715.1 1066.1,714.5 1065.1,714.0 1064.1,713.6 1063.1,713.3 1062.1,713.1 1061.1,713.0 1060.1,713.1 1059.1,713.3 1058.1,713.8 1057.1,714.4 1056.1,715.3 1055.1,716.3 1054.1,717.2 1053.1,718.1 1052.1,718.9 1051.1,719.6 1050.1,720.3 1049.1,720.9 1048.1,721.5 1047.1,722.0 1046.1,722.4 1045.1,722.7 1044.1,723.0 1043.1,723.2 1042.1,723.5 1041.1,723.9 1040.1,724.4 1039.1,724.9 1038.1,725.5 1037.1,726.1 1036.1,726.8 1035.1,727.6 1034.1,728.4 1033.1,729.2 1032.1,730.0 1031.1,730.8 1030.1,731.6 1029.1,732.4 1028.1,733.2 1027.1,734.1 1026.1,735.0 1025.1,735.9 1024.1,736.9 1023.1,738.5 1022.1,740.6 1021.1,743.1 1020.1,745.7 1019.1,748.3 1018.1,750.8 1017.1,753.2 1016.1,755.5 1015.1,757.9 1014.1,760.3 1013.1,762.9 1012.1,765.7 1011.1,768.7 1010.1,771.8 1009.1,774.7 1008.1,777.3 1007.1,779.7 1006.1,781.9 1005.1,784.2 1004.1,786.5 1003.1,788.7 1002.1,790.9 1001.1,792.9 1000.1,794.8 999.1,796.6 998.1,798.3 997.1,800.0 996.1,801.6 995.1,803.1 994.1,804.4 993.1,805.4 992.1,805.9 991.1,806.2 990.1,806.3 989.1,806.4 988.1,806.4 987.1,806.5 986.1,806.6 985.1,806.6 984.1,806.8 983.1,806.9 982.1,807.1 981.1,807.5 980.1,808.0 979.1,808.5 978.1,809.1 977.1,809.6 976.1,810.2 975.1,810.8 974.1,811.4 973.1,812.0 972.1,812.6 971.1,813.2 970.1,813.8 969.1,814.4 968.1,814.9 967.1,815.4 966.1,815.9 965.1,816.2 964.1,816.5 963.1,816.8 962.1,817.0 961.1,817.1 960.1,817.2 959.1,817.2 958.1,817.1 957.1,816.9 956.1,816.5 955.1,816.1 954.1,815.5 953.1,815.0 952.1,814.4 951.1,813.7 950.1,813.1 949.1,812.4 948.1,811.8 947.1,811.3 946.1,810.8 945.1,810.4 944.1,810.1 943.1,809.8 942.1,809.5 941.1,809.3 940.1,808.9 939.1,808.3 938.1,807.5 937.1,807.1 936.1,806.8 935.1,806.5 934.1,806.2 933.1,805.9 932.1,805.6 931.1,805.3 930.1,805.0 929.1,804.8 928.1,804.5 927.1,804.3 926.1,804.1 925.1,804.1 924.1,804.2 923.1,804.4 922.1,804.6 921.1,804.9 920.1,805.2 919.1,805.5 918.1,805.8 917.1,806.2 916.1,806.5 915.1,806.9 914.1,807.2 913.1,807.5 912.1,807.6 911.1,807.6 910.1,807.5 909.1,807.2 908.1,806.8 907.1,806.3 906.1,805.8 905.1,805.2 904.1,804.6 903.1,803.9 902.1,803.2 901.1,802.6 900.1,801.9 899.1,801.2 898.1,800.5 897.1,799.7 896.1,799.0 895.1,798.2 894.1,797.4 893.1,796.6 892.1,795.8 891.1,795.0 890.1,794.4 889.1,793.9 888.1,793.6 887.1,793.4 886.1,793.3 885.1,793.4 884.1,793.6 883.1,793.8 882.1,794.0 881.1,794.3 880.1,794.6 879.1,794.9 878.1,795.2 877.1,795.6 876.1,796.0 875.1,796.4 874.1,796.8 873.1,797.3 872.1,797.9 871.1,798.4 870.1,798.9 869.1,799.3 868.1,799.7 867.1,799.9 866.1,800.1 865.1,800.2 864.1,800.3 863.1,800.3 862.1,800.3 861.1,800.3 860.1,800.3 859.1,800.2 858.1,800.0 857.1,799.9 856.1,799.7 855.1,799.5 854.1,799.3 853.1,799.1 852.1,798.9 851.1,798.7 850.1,798.5 849.1,798.3 848.1,798.1 847.1,797.9 846.1,797.7 845.1,797.7 844.1,797.8 843.1,797.9 842.1,798.1 841.1,798.3 840.1,798.6 839.1,798.8 838.1,799.1 837.1,799.4 836.1,799.8 835.1,800.2 834.1,800.7 833.1,801.2 832.1,801.7 831.1,802.2 830.1,802.7 829.1,803.2 828.1,803.7 827.1,804.2 826.1,804.7 825.1,805.2 824.1,805.7 823.1,806.1 822.1,806.5 821.1,806.8 820.1,807.2 819.1,807.9 818.1,809.1 817.1,811.1 816.1,813.8 815.1,816.7 814.1,819.5 813.1,822.1 812.1,824.5 811.1,826.8 810.1,829.0 809.1,831.2 808.1,833.2 807.1,835.1 806.1,837.0 805.1,838.6 804.1,840.2 803.1,841.6 802.1,842.9 801.1,844.0 800.1,845.0 799.1,845.9 798.1,846.5 797.1,847.0 796.1,847.3 795.1,847.6 794.1,847.8 793.1,848.0 792.1,848.2 791.1,848.3 790.1,848.4 789.1,848.5 788.1,848.6 787.1,848.7 786.1,848.8 785.1,849.0 784.1,849.4 783.1,849.8 782.1,850.3 781.1,850.9 780.1,851.6 779.1,852.3 778.1,853.0 777.1,853.7 776.1,854.4 775.1,855.1 774.1,855.8 773.1,856.5 772.1,857.2 771.1,857.9 770.1,858.6 769.1,859.3 768.1,859.9 767.1,860.3 766.1,860.6 765.1,860.8 764.1,861.0 763.1,861.1 762.1,861.3 761.1,861.4 760.1,861.4 759.1,861.5 758.1,861.6 757.1,861.8 756.1,862.0 755.1,862.2 754.1,862.5 753.1,862.9 752.1,863.6 751.1,864.4 750.1,865.4 749.1,866.4 748.1,867.6 747.1,868.9 746.1,870.2 745.1,871.4 744.1,872.6 743.1,873.7 742.1,874.7 741.1,875.7 740.1,876.5 739.1,877.3 738.1,878.0 737.1,878.6 736.1,879.2 735.1,879.6 734.1,880.1 733.1,880.5 732.1,880.9 731.1,881.3 730.1,881.6 729.1,881.9 728.1,882.2 727.1,882.5 726.1,882.8 725.1,883.1 724.1,883.5 723.1,883.8 722.1,884.2 721.1,884.7 720.1,885.1 719.1,885.5 718.1,885.9 717.1,886.2 716.1,886.6 715.1,886.9 714.1,887.1 713.1,887.2 712.1,887.2 711.1,887.2 710.1,887.1 709.1,886.9 708.1,886.7 707.1,886.5 706.1,886.3 705.1,886.1 704.1,885.9 703.1,885.7 702.1,885.5 701.1,885.4 700.1,885.2 699.1,885.1 698.1,885.0 697.1,885.1 696.1,885.2 695.1,885.5 694.1,885.8 693.1,886.2 692.1,886.6 691.1,887.1 690.1,887.6 689.1,888.2 688.1,888.9 687.1,889.7 686.1,890.5 685.1,891.4 684.1,892.3 683.1,893.2 682.1,893.9 681.1,894.1 680.1,894.0 679.1,893.5 678.1,893.0 677.1,892.4 676.1,891.8 675.1,891.2 674.1,890.6 673.1,890.0 672.1,889.4 671.1,888.8 670.1,888.3 669.1,887.7 668.1,887.3 667.1,886.9 666.1,886.5 665.1,886.3 664.1,886.2 663.1,886.2 662.1,886.3 661.1,886.3 660.1,886.5 659.1,886.7 658.1,886.9 657.1,887.0 656.1,887.2 655.1,887.2 654.1,887.2 653.1,887.2 652.1,887.1 651.1,887.1 650.1,887.0 649.1,886.9 648.1,886.8 647.1,886.6 646.1,886.5 645.1,886.4 644.1,886.3 643.1,886.3 642.1,886.3 641.1,886.5 640.1,886.7 639.1,886.9 638.1,887.3 637.1,887.7 636.1,888.2 635.1,888.6 634.1,889.1 633.1,889.6 632.1,890.0 631.1,890.6 630.1,891.1 629.1,891.6 628.1,892.0 627.1,892.5 626.1,892.8 625.1,893.0 624.1,893.2 623.1,893.3 622.1,893.3 621.1,893.3 620.1,893.2 619.1,893.0 618.1,892.7 617.1,892.4 616.1,891.9 615.1,891.4 614.1,890.8 613.1,890.2 612.1,889.6 611.1,888.9 610.1,888.1 609.1,887.2 608.1,886.4 607.1,885.6 606.1,884.9 605.1,884.4 604.1,884.0 603.1,883.7 602.1,883.4 601.1,883.3 600.1,883.3 599.1,883.3 598.1,883.4 597.1,883.6 596.1,883.8 595.1,884.2 594.1,884.6 593.1,885.2 592.1,885.8 591.1,886.4 590.1,887.1 589.1,887.7 588.1,888.3 587.1,889.0 586.1,889.7 585.1,890.3 584.1,891.0 583.1,891.6 582.1,892.3 581.1,892.8 580.1,893.2 579.1,893.6 578.1,893.8 577.1,894.0 576.1,894.2 575.1,894.3 574.1,894.3 573.1,894.2 572.1,894.1 571.1,893.9 570.1,893.6 569.1,893.4 568.1,893.2 567.1,892.9 566.1,892.6 565.1,892.3 564.1,892.0 563.1,891.7 562.1,891.4 561.1,891.1 560.1,890.9 559.1,890.7 558.1,890.6 557.1,890.6 556.1,890.6 555.1,890.6 554.1,890.6 553.1,890.8 552.1,891.0 551.1,891.4 550.1,891.9 549.1,892.5 548.1,893.1 547.1,893.8 546.1,894.6 545.1,895.3 544.1,896.2 543.1,897.0 542.1,897.9 541.1,898.7 540.1,899.5 539.1,900.4 538.1,901.2 537.1,902.1 536.1,902.9 535.1,903.7 534.1,904.6 533.1,905.4 532.1,906.2 531.1,907.0 530.1,907.7 529.1,908.5 528.1,909.2 527.1,909.9 526.1,910.6 525.1,911.3 524.1,911.9 523.1,912.5 522.1,913.0 521.1,913.5 520.1,913.9 519.1,914.2 518.1,914.4 517.1,914.4 516.1,914.4 515.1,914.4 514.1,914.2 513.1,914.1 512.1,913.9 511.1,913.7 510.1,913.5 509.1,913.3 508.1,913.1 507.1,912.9 506.1,912.7 505.1,912.5 504.1,912.3 503.1,912.1 502.1,911.9 501.1,911.7 500.1,911.6 499.1,911.5 498.1,911.4 497.1,911.4 496.1,911.5 495.1,911.7 494.1,911.9 493.1,912.2 492.1,912.6 491.1,913.0 490.1,913.5 489.1,914.0 488.1,914.6 487.1,915.1 486.1,915.6 485.1,916.1 484.1,916.5 483.1,916.8 482.1,917.1 481.1,917.3 480.1,917.4 479.1,917.4 478.1,917.4 477.1,917.3 476.1,917.2 475.1,917.1 474.1,916.9 473.1,916.7 472.1,916.5 471.1,916.3 470.1,916.1 469.1,915.9 468.1,915.8 467.1,915.7 466.1,915.6 465.1,915.5 464.1,915.5 463.1,915.6 462.1,915.7 461.1,915.9 460.1,916.2 459.1,916.4 458.1,916.6 457.1,916.8 456.1,916.9 455.1,917.0 454.1,917.1 453.1,917.1 452.1,916.9 451.1,916.7 450.1,916.4 449.1,916.1 448.1,915.8 447.1,915.4 446.1,915.0 445.1,914.6 444.1,914.2 443.1,913.8 442.1,913.4 441.1,913.0 440.1,912.7 439.1,912.4 438.1,912.2 437.1,912.0 436.1,911.8 435.1,911.6 434.1,911.5 433.1,911.4 432.1,911.3 431.1,911.2 430.1,911.1 429.1,911.0 428.1,910.8 427.1,910.6 426.1,910.3 425.1,909.9 424.1,909.5 423.1,909.0 422.1,908.6 421.1,908.1 420.1,907.6 419.1,907.1 418.1,906.6 417.1,906.2 416.1,905.7 415.1,905.2 414.1,904.8 413.1,904.4 412.1,904.0 411.1,903.7 410.1,903.5 409.1,903.4 408.1,903.4 407.1,903.4 406.1,903.5 405.1,903.6 404.1,903.7 403.1,903.8 402.1,903.9 401.1,903.9 400.1,903.9 399.1,903.9 398.1,903.8 397.1,903.7 396.1,903.5 395.1,903.3 394.1,903.0 393.1,902.7 392.1,902.3 391.1,901.9 390.1,901.4 389.1,900.9 388.1,900.4 387.1,899.9 386.1,899.5 385.1,899.0 384.1,898.6 383.1,898.2 382.1,897.9 381.1,897.5 380.1,897.3 379.1,897.0 378.1,896.9 377.1,896.7 376.1,896.6 375.1,896.5 374.1,896.4 373.1,896.3 372.1,896.3 371.1,896.3 370.1,896.2 369.1,896.2 368.1,896.2 367.1,896.1 366.1,896.0 365.1,895.9 364.1,895.8 363.1,895.7 362.1,895.5 361.1,895.4 360.1,895.2 359.1,895.1 358.1,895.0 357.1,894.9 356.1,894.9 355.1,894.8 354.1,894.8 353.1,894.9 352.1,895.1 351.1,895.4 350.1,895.8 349.1,896.2 348.1,896.8 347.1,897.3 346.1,897.9 345.1,898.4 344.1,899.0 343.1,899.6 342.1,900.1 341.1,900.7 340.1,901.3 339.1,901.8 338.1,902.4 337.1,902.9 336.1,903.3 335.1,903.6 334.1,903.8 333.1,903.9 332.1,903.8 331.1,903.7 330.1,903.5 329.1,903.3 328.1,903.1 327.1,902.8 326.1,902.5 325.1,902.2 324.1,902.0 323.1,901.7 322.1,901.4 321.1,901.3 320.1,901.1 319.1,901.1 318.1,901.1 317.1,901.2 316.1,901.4 315.1,901.7 314.1,902.2 313.1,902.7 312.1,903.4 311.1,904.1 310.1,904.9 309.1,905.8 307.5,908.8 306.1,908.9" fill="#f08080" fill-opacity="0.205"/>
<polyline points="306.1,913.9 307.5,913.8 309.1,910.8 310.1,909.9 311.1,909.1 312.1,908.4 313.1,907.7 314.1,907.2 315.1,906.7 316.1,906.4 317.1,906.2 318.1,906.1 319.1,906.1 320.1,906.1 321.1,906.3 322.1,906.4 323.1,906.7 324.1,907.0 325.1,907.2 326.1,907.5 327.1,907.8 328.1,908.1 329.1,908.3 330.1,908.5 331.1,908.7 332.1,908.8 333.1,908.9 334.1,908.8 335.1,908.6 336.1,908.3 337.1,907.9 338.1,907.4 339.1,906.8 340.1,906.3 341.1,905.7 342.1,905.1 343.1,904.6 344.1,904.0 345.1,903.4 346.1,902.9 347.1,902.3 348.1,901.8 349.1,901.2 350.1,900.8 351.1,900.4 352.1,900.1 353.1,899.9 354.1,899.8 355.1,899.8 356.1,899.9 357.1,899.9 358.1,900.0 359.1,900.1 360.1,900.2 361.1,900.4 362.1,900.5 363.1,900.7 364.1,900.8 365.1,900.9 366.1,901.0 367.1,901.1 368.1,901.2 369.1,901.2 370.1,901.2 371.1,901.3 372.1,901.3 373.1,901.3 374.1,901.4 375.1,901.5 376.1,901.6 377.1,901.7 378.1,901.9 379.1,902.0 380.1,902.3 381.1,902.5 382.1,902.9 383.1,903.2 384.1,903.6 385.1,904.0 386.1,904.5 387.1,904.9 388.1,905.4 389.1,905.9 390.1,906.4 391.1,906.9 392.1,907.3 393.1,907.7 394.1,908.0 395.1,908.3 396.1,908.5 397.1,908.7 398.1,908.8 399.1,908.9 400.1,908.9 401.1,908.9 402.1,908.9 403.1,908.8 404.1,908.7 405.1,908.6 406.1,908.5 407.1,908.4 408.1,908.4 409.1,908.4 410.1,908.5 411.1,908.7 412.1,909.0 413.1,909.4 414.1,909.8 415.1,910.2 416.1,910.7 417.1,911.2 418.1,911.6 419.1,912.1 420.1,912.6 421.1,913.1 422.1,913.6 423.1,914.0 424.1,914.5 425.1,914.9 426.1,915.3 427.1,915.6 428.1,915.8 429.1,916.0 430.1,916.1 431.1,916.2 432.1,916.3 433.1,916.4 434.1,916.5 435.1,916.6 436.1,916.8 437.1,917.0 438.1,917.2 439.1,917.4 440.1,917.7 441.1,918.0 442.1,918.4 443.1,918.8 444.1,919.2 445.1,919.6 446.1,920.0 447.1,920.4 448.1,920.8 449.1,921.1 450.1,921.4 451.1,921.7 452.1,921.9 453.1,922.1 454.1,922.1 455.1,922.0 456.1,921.9 457.1,921.8 458.1,921.6 459.1,921.4 460.1,921.2 461.1,920.9 462.1,920.7 463.1,920.6 464.1,920.5 465.1,920.5 466.1,920.6 467.1,920.7 468.1,920.8 469.1,920.9 470.1,921.1 471.1,921.3 472.1,921.5 473.1,921.7 474.1,921.9 475.1,922.1 476.1,922.2 477.1,922.3 478.1,922.4 479.1,922.4 480.1,922.4 481.1,922.3 482.1,922.1 483.1,921.8 484.1,921.5 485.1,921.1 486.1,920.6 487.1,920.1 488.1,919.6 489.1,919.0 490.1,918.5 491.1,918.0 492.1,917.6 493.1,917.2 494.1,916.9 495.1,916.7 496.1,916.5 497.1,916.4 498.1,916.4 499.1,916.5 500.1,916.6 501.1,916.7 502.1,916.9 503.1,917.1 504.1,917.3 505.1,917.5 506.1,917.7 507.1,917.9 508.1,918.1 509.1,918.3 510.1,918.5 511.1,918.7 512.1,918.9 513.1,919.1 514.1,919.2 515.1,919.4 516.1,919.4 517.1,919.4 518.1,919.4 519.1,919.2 520.1,918.9 521.1,918.5 522.1,918.0 523.1,917.5 524.1,916.9 525.1,916.3 526.1,915.6 527.1,914.9 528.1,914.2 529.1,913.5 530.1,912.7 531.1,912.0 532.1,911.2 533.1,910.4 534.1,909.6 535.1,908.7 536.1,907.9 537.1,907.1 538.1,906.2 539.1,905.4 540.1,904.5 541.1,903.7 542.1,902.9 543.1,902.0 544.1,901.2 545.1,900.3 546.1,899.6 547.1,898.8 548.1,898.1 549.1,897.5 550.1,896.9 551.1,896.4 552.1,896.0 553.1,895.8 554.1,895.6 555.1,895.6 556.1,895.6 557.1,895.6 558.1,895.6 559.1,895.7 560.1,895.9 561.1,896.1 562.1,896.4 563.1,896.7 564.1,897.0 565.1,897.3 566.1,897.6 567.1,897.9 568.1,898.2 569.1,898.4 570.1,898.6 571.1,898.9 572.1,899.1 573.1,899.2 574.1,899.3 575.1,899.3 576.1,899.2 577.1,899.0 578.1,898.8 579.1,898.6 580.1,898.2 581.1,897.8 582.1,897.3 583.1,896.6 584.1,896.0 585.1,895.3 586.1,894.7 587.1,894.0 588.1,893.3 589.1,892.7 590.1,892.1 591.1,891.4 592.1,890.8 593.1,890.2 594.1,889.6 595.1,889.2 596.1,888.8 597.1,888.6 598.1,888.4 599.1,888.3 600.1,888.3 601.1,888.3 602.1,888.4 603.1,888.7 604.1,889.0 605.1,889.4 606.1,889.9 607.1,890.6 608.1,891.4 609.1,892.2 610.1,893.1 611.1,893.9 612.1,894.6 613.1,895.2 614.1,895.8 615.1,896.4 616.1,896.9 617.1,897.4 618.1,897.7 619.1,898.0 620.1,898.2 621.1,898.3 622.1,898.3 623.1,898.3 624.1,898.2 625.1,898.0 626.1,897.8 627.1,897.5 628.1,897.0 629.1,896.6 630.1,896.1 631.1,895.6 632.1,895.0 633.1,894.6 634.1,894.1 635.1,893.6 636.1,893.2 637.1,892.7 638.1,892.3 639.1,891.9 640.1,891.7 641.1,891.5 642.1,891.3 643.1,891.3 644.1,891.3 645.1,891.4 646.1,891.5 647.1,891.6 648.1,891.8 649.1,891.9 650.1,892.0 651.1,892.1 652.1,892.1 653.1,892.2 654.1,892.2 655.1,892.2 656.1,892.2 657.1,892.0 658.1,891.9 659.1,891.7 660.1,891.5 661.1,891.3 662.1,891.3 663.1,891.2 664.1,891.2 665.1,891.3 666.1,891.5 667.1,891.9 668.1,892.3 669.1,892.7 670.1,893.3 671.1,893.8 672.1,894.4 673.1,895.0 674.1,895.6 675.1,896.2 676.1,896.8 677.1,897.4 678.1,898.0 679.1,898.5 680.1,899.0 681.1,899.1 682.1,898.9 683.1,898.2 684.1,897.3 685.1,896.4 686.1,895.5 687.1,894.7 688.1,893.9 689.1,893.2 690.1,892.6 691.1,892.1 692.1,891.6 693.1,891.2 694.1,890.8 695.1,890.5 696.1,890.2 697.1,890.1 698.1,890.0 699.1,890.1 700.1,890.2 701.1,890.4 702.1,890.5 703.1,890.7 704.1,890.9 705.1,891.1 706.1,891.3 707.1,891.5 708.1,891.7 709.1,891.9 710.1,892.1 711.1,892.2 712.1,892.2 713.1,892.2 714.1,892.1 715.1,891.9 716.1,891.6 717.1,891.2 718.1,890.9 719.1,890.5 720.1,890.1 721.1,889.7 722.1,889.2 723.1,888.8 724.1,888.5 725.1,888.1 726.1,887.8 727.1,887.5 728.1,887.2 729.1,886.9 730.1,886.6 731.1,886.3 732.1,885.9 733.1,885.5 734.1,885.1 735.1,884.6 736.1,884.2 737.1,883.6 738.1,883.0 739.1,882.3 740.1,881.5 741.1,880.7 742.1,879.7 743.1,878.7 744.1,877.6 745.1,876.4 746.1,875.2 747.1,873.9 748.1,872.6 749.1,871.4 750.1,870.4 751.1,869.4 752.1,868.6 753.1,867.9 754.1,867.5 755.1,867.2 756.1,867.0 757.1,866.8 758.1,866.6 759.1,866.5 760.1,866.4 761.1,866.4 762.1,866.3 763.1,866.1 764.1,866.0 765.1,865.8 766.1,865.6 767.1,865.3 768.1,864.9 769.1,864.3 770.1,863.6 771.1,862.9 772.1,862.2 773.1,861.5 774.1,860.8 775.1,860.1 776.1,859.4 777.1,858.7 778.1,858.0 779.1,857.3 780.1,856.6 781.1,855.9 782.1,855.3 783.1,854.8 784.1,854.4 785.1,854.0 786.1,853.8 787.1,853.7 788.1,853.6 789.1,853.5 790.1,853.4 791.1,853.3 792.1,853.2 793.1,853.0 794.1,852.8 795.1,852.6 796.1,852.3 797.1,852.0 798.1,851.5 799.1,850.9 800.1,850.0 801.1,849.0 802.1,847.9 803.1,846.6 804.1,845.2 805.1,843.6 806.1,842.0 807.1,840.1 808.1,838.2 809.1,836.2 810.1,834.0 811.1,831.8 812.1,829.5 813.1,827.1 814.1,824.5 815.1,821.7 816.1,818.8 817.1,816.1 818.1,814.1 819.1,812.9 820.1,812.2 821.1,811.8 822.1,811.5 823.1,811.1 824.1,810.7 825.1,810.2 826.1,809.7 827.1,809.2 828.1,808.7 829.1,808.2 830.1,807.7 831.1,807.2 832.1,806.7 833.1,806.2 834.1,805.7 835.1,805.2 836.1,804.8 837.1,804.4 838.1,804.1 839.1,803.8 840.1,803.6 841.1,803.3 842.1,803.1 843.1,802.9 844.1,802.8 845.1,802.7 846.1,802.7 847.1,802.9 848.1,803.1 849.1,803.3 850.1,803.5 851.1,803.7 852.1,803.9 853.1,804.1 854.1,804.3 855.1,804.5 856.1,804.7 857.1,804.9 858.1,805.0 859.1,805.2 860.1,805.3 861.1,805.3 862.1,805.3 863.1,805.3 864.1,805.3 865.1,805.2 866.1,805.1 867.1,804.9 868.1,804.7 869.1,804.3 870.1,803.9 871.1,803.4 872.1,802.9 873.1,802.3 874.1,801.8 875.1,801.4 876.1,801.0 877.1,800.6 878.1,800.2 879.1,799.9 880.1,799.6 881.1,799.3 882.1,799.0 883.1,798.8 884.1,798.6 885.1,798.4 886.1,798.3 887.1,798.4 888.1,798.6 889.1,798.9 890.1,799.4 891.1,800.0 892.1,800.8 893.1,801.6 894.1,802.4 895.1,803.2 896.1,804.0 897.1,804.7 898.1,805.5 899.1,806.2 900.1,806.9 901.1,807.6 902.1,808.2 903.1,808.9 904.1,809.6 905.1,810.2 906.1,810.8 907.1,811.3 908.1,811.8 909.1,812.2 910.1,812.5 911.1,812.6 912.1,812.6 913.1,812.5 914.1,812.2 915.1,811.9 916.1,811.5 917.1,811.2 918.1,810.8 919.1,810.5 920.1,810.2 921.1,809.9 922.1,809.6 923.1,809.4 924.1,809.2 925.1,809.1 926.1,809.1 927.1,809.3 928.1,809.5 929.1,809.8 930.1,810.0 931.1,810.3 932.1,810.6 933.1,810.9 934.1,811.2 935.1,811.5 936.1,811.8 937.1,812.1 938.1,812.5 939.1,813.3 940.1,813.9 941.1,814.3 942.1,814.5 943.1,814.8 944.1,815.1 945.1,815.4 946.1,815.8 947.1,816.3 948.1,816.8 949.1,817.4 950.1,818.1 951.1,818.7 952.1,819.4 953.1,820.0 954.1,820.5 955.1,821.1 956.1,821.5 957.1,821.9 958.1,822.1 959.1,822.2 960.1,822.2 961.1,822.1 962.1,822.0 963.1,821.8 964.1,821.5 965.1,821.2 966.1,820.9 967.1,820.4 968.1,819.9 969.1,819.4 970.1,818.8 971.1,818.2 972.1,817.6 973.1,817.0 974.1,816.4 975.1,815.8 976.1,815.2 977.1,814.6 978.1,814.1 979.1,813.5 980.1,813.0 981.1,812.5 982.1,812.1 983.1,811.9 984.1,811.8 985.1,811.6 986.1,811.6 987.1,811.5 988.1,811.4 989.1,811.4 990.1,811.3 991.1,811.2 992.1,810.9 993.1,810.4 994.1,809.4 995.1,808.1 996.1,806.6 997.1,805.0 998.1,803.3 999.1,801.6 1000.1,799.8 1001.1,797.9 1002.1,795.9 1003.1,793.7 1004.1,791.5 1005.1,789.2 1006.1,786.9 1007.1,784.7 1008.1,782.3 1009.1,779.7 1010.1,776.8 1011.1,773.7 1012.1,770.7 1013.1,767.9 1014.1,765.3 1015.1,762.9 1016.1,760.5 1017.1,758.2 1018.1,755.8 1019.1,753.3 1020.1,750.7 1021.1,748.1 1022.1,745.6 1023.1,743.5 1024.1,741.9 1025.1,740.9 1026.1,740.0 1027.1,739.1 1028.1,738.2 1029.1,737.4 1030.1,736.6 1031.1,735.8 1032.1,735.0 1033.1,734.2 1034.1,733.4 1035.1,732.6 1036.1,731.8 1037.1,731.1 1038.1,730.5 1039.1,729.9 1040.1,729.4 1041.1,728.9 1042.1,728.5 1043.1,728.2 1044.1,728.0 1045.1,727.7 1046.1,727.4 1047.1,727.0 1048.1,726.5 1049.1,725.9 1050.1,725.3 1051.1,724.6 1052.1,723.9 1053.1,723.1 1054.1,722.2 1055.1,721.3 1056.1,720.3 1057.1,719.4 1058.1,718.8 1059.1,718.3 1060.1,718.1 1061.1,718.0 1062.1,718.1 1063.1,718.3 1064.1,718.6 1065.1,719.0 1066.1,719.5 1067.1,720.1 1068.1,720.8 1069.1,721.7 1070.1,722.5 1071.1,723.4 1072.1,724.4 1073.1,725.4 1074.1,726.4 1075.1,727.5 1076.1,728.6 1077.1,729.8 1078.1,730.8 1079.1,731.8 1080.1,732.7 1081.1,733.5 1082.1,734.2 1083.1,734.8 1084.1,735.4 1085.1,735.8 1086.1,736.0 1087.1,736.1 1088.1,736.0 1089.1,735.6 1090.1,735.0 1091.1,734.4 1092.1,733.9 1093.1,733.8 1094.1,734.0 1095.1,734.5 1096.1,735.2 1097.1,736.0 1098.1,737.1 1099.1,738.2 1100.1,739.3 1101.1,740.5 1102.1,741.5 1103.1,742.6 1104.1,743.6 1105.1,744.6 1106.1,745.6 1107.1,746.6 1108.1,747.5 1109.1,748.5 1110.1,749.5 1111.1,750.4 1112.1,751.3 1113.1,752.0 1114.1,752.8 1115.1,753.5 1116.1,754.2 1117.1,754.9 1118.1,755.6 1119.1,756.3 1120.1,757.0 1121.1,757.7 1122.1,758.4 1123.1,759.1 1124.1,759.8 1125.1,760.5 1126.1,761.3 1127.1,761.8 1128.1,761.5 1129.1,760.2 1130.1,758.3 1131.1,756.5 1132.1,754.8 1133.1,753.2 1134.1,751.6 1135.1,750.1 1136.1,748.7 1137.1,747.5 1138.1,746.3 1139.1,745.1 1140.1,744.0 1141.1,742.8 1142.1,741.5 1143.1,740.2 1144.1,739.0 1145.1,737.6 1146.1,736.3 1147.1,734.9 1148.1,733.5 1149.1,732.0 1150.1,730.4 1151.1,728.7 1152.1,726.8 1153.1,724.9 1154.1,723.0 1155.1,720.9 1156.1,718.9 1157.1,716.9 1158.1,714.9 1159.1,713.0 1160.1,711.1 1161.1,709.2 1162.1,707.5 1163.1,705.9 1164.1,704.6 1165.1,703.5 1166.1,702.7 1167.1,702.0 1168.1,701.3 1169.1,700.8 1170.1,700.3 1171.1,699.9 1172.1,699.5 1173.1,699.1 1174.1,698.8 1175.1,698.5 1176.1,698.4 1177.1,698.3 1178.1,698.4 1179.1,698.6 1180.1,698.9 1181.1,699.2 1182.1,699.6 1183.1,699.9 1184.1,700.3 1185.1,700.7 1186.1,701.1 1187.1,701.5 1188.1,701.9 1189.1,702.3 1190.1,702.5 1191.1,702.7 1192.1,702.7 1193.1,702.8 1194.1,702.7 1195.1,702.6 1196.1,702.4 1197.1,702.1 1198.1,701.6 1199.1,700.9 1200.1,700.1 1201.1,699.2 1202.1,698.2 1203.1,697.3 1204.1,696.4 1205.1,695.5 1206.1,694.7 1207.1,693.9 1208.1,693.1 1209.1,692.3 1210.1,691.6 1211.1,691.0 1212.1,690.5 1213.1,690.0 1214.1,689.7 1215.1,689.5 1216.1,689.4 1217.1,689.3 1218.1,689.2 1219.1,689.1 1220.1,689.0 1221.1,688.9 1222.1,688.8 1223.1,688.7 1224.1,688.6 1225.1,688.5 1226.1,688.4 1227.1,688.3 1228.1,688.1 1229.1,687.9 1230.1,687.7 1231.1,687.5 1232.1,687.2 1233.1,687.1 1234.1,686.9 1235.1,686.8 1236.1,686.7 1237.1,686.7 1238.1,686.8 1239.1,687.1 1240.1,687.4 1241.1,687.8 1242.1,688.3 1243.1,688.8 1244.1,689.3 1245.1,689.8 1246.1,690.3 1247.1,690.8 1248.1,691.2 1249.1,691.6 1250.1,692.0 1251.1,692.4 1252.1,692.7 1253.1,693.0 1254.1,693.2 1255.1,693.3 1256.1,693.3 1257.1,693.3 1258.1,693.3 1259.1,693.2 1260.1,693.1 1261.1,693.0 1262.1,692.9 1263.1,692.8 1264.1,692.7 1265.1,692.6 1266.1,692.6 1267.1,692.6 1268.1,692.7 1269.1,692.9 1270.1,693.4 1271.1,694.1 1272.1,694.9 1273.1,695.9 1274.1,696.9 1275.1,697.9 1276.1,698.9 1277.1,699.9 1278.1,700.9 1279.1,701.9 1280.1,702.8 1281.1,703.8 1282.1,704.7 1283.1,705.5 1284.1,706.4 1285.1,707.2 1286.1,707.9 1287.1,708.6 1288.1,709.3 1289.1,710.0 1290.1,710.6 1291.1,711.3 1292.1,711.9 1293.1,712.4 1294.1,713.0 1295.1,713.6 1296.1,714.4 1297.1,715.4 1298.1,716.4 1299.1,717.1 1300.1,717.6 1301.1,718.4 1302.1,719.5 1303.1,720.7 1304.1,721.8 1305.1,722.9 1306.1,723.8 1307.1,724.7 1308.1,725.6 1309.1,726.4 1310.1,727.1 1311.1,727.8 1312.1,728.3 1313.1,728.8 1314.1,729.3 1315.1,729.8 1316.1,730.3 1317.1,730.8 1318.1,731.3 1319.1,731.8 1320.1,732.3 1321.1,732.8 1322.1,733.3 1323.1,733.9 1324.1,734.6 1325.1,735.4 1326.1,736.3 1327.1,737.2 1328.1,738.1 1329.1,739.1 1330.1,740.1 1331.1,741.1 1332.1,742.1 1333.1,743.1 1334.1,744.0 1335.1,744.9 1336.1,745.8 1337.1,746.5 1338.1,747.3 1339.1,747.9 1340.1,748.5 1341.1,749.0 1342.1,749.5 1343.1,750.0 1344.1,750.4 1345.1,750.8 1346.1,751.2 1347.1,751.6 1348.1,752.0 1349.1,752.4 1350.1,752.9 1351.1,753.4 1352.1,753.9 1353.1,754.6 1354.1,755.4 1355.1,756.3 1356.1,757.3 1357.1,758.3 1358.1,759.4 1359.1,760.6 1360.1,761.7 1361.1,762.8 1362.1,763.8 1363.1,764.8 1364.1,765.8 1365.1,766.8 1366.1,767.8 1367.1,768.7 1368.1,769.6 1369.1,770.3 1370.1,771.0 1371.1,771.6 1372.1,772.1 1373.1,772.5 1374.1,772.7 1375.1,772.7 1376.1,772.7 1377.1,772.7 1378.1,772.4 1379.1,772.1 1380.1,771.6 1381.1,770.9 1382.1,770.2 1383.1,769.5 1384.1,768.8 1385.1,768.0 1386.1,767.2 1387.1,766.4 1388.1,765.5 1389.1,764.7 1390.1,763.8 1391.1,763.0 1392.1,762.0 1393.1,761.1 1394.1,760.2 1395.1,759.2 1396.1,758.3 1397.1,757.4 1398.1,756.5 1399.1,755.6 1400.1,754.8 1401.1,754.0 1402.1,753.1 1403.1,752.3 1404.1,751.4 1405.1,750.5 1406.1,749.6 1407.1,748.6 1408.1,747.7 1409.1,746.8 1410.1,745.9 1411.1,745.0 1412.1,744.2 1413.1,743.4 1414.1,742.7 1415.1,742.1 1416.1,741.6 1417.1,741.1 1418.1,740.8 1419.1,740.5 1420.1,740.2 1421.1,740.0 1422.1,739.8 1423.1,739.6 1424.1,739.4 1425.1,739.2 1426.1,739.1 1427.1,739.0 1428.1,738.8 1429.1,738.6 1430.1,738.3 1431.1,737.9 1432.1,737.4 1433.1,736.8 1434.1,736.2 1435.1,735.6 1436.1,734.9 1437.1,734.2 1438.1,733.4 1439.1,732.6 1440.1,731.6 1441.1,730.7 1442.1,729.7 1443.1,728.6 1444.1,727.6 1445.1,726.5 1446.1,725.4 1447.1,724.3 1448.1,723.2 1449.1,722.1 1450.1,721.0 1451.1,720.0 1452.1,719.0 1453.1,718.1 1454.1,717.2 1455.1,716.5 1456.1,715.8 1457.1,715.2 1458.1,714.8 1459.1,714.4 1460.1,714.1 1461.1,713.9 1462.1,713.7 1463.1,713.5 1464.1,713.6 1465.1,713.8 1466.1,714.1 1467.1,714.4 1468.1,714.7 1469.1,715.1 1470.1,715.5 1471.1,715.8 1472.1,716.2 1473.1,716.6 1474.1,716.9 1475.1,717.1 1476.1,717.2 1477.1,717.2 1478.1,717.2 1479.1,717.1 1480.1,716.9 1481.1,716.6 1482.1,716.1 1483.1,715.5 1484.1,714.9 1485.1,714.2 1486.1,713.5 1487.1,712.7 1488.1,712.0 1489.1,711.2 1490.1,710.4 1491.1,709.5 1492.1,708.7 1493.1,708.0 1494.1,707.2 1495.1,706.5 1496.1,705.8 1497.1,705.2 1498.1,704.7 1499.1,704.4 1500.1,704.2 1501.1,704.2 1502.1,704.1 1503.1,704.0 1504.1,703.9 1505.1,703.7 1506.1,703.6 1507.1,703.5 1508.1,703.4 1509.1,703.2 1510.1,703.1 1511.1,703.0 1512.1,702.9 1513.1,702.7 1514.1,702.6 1515.1,702.5 1516.1,702.4 1517.1,702.2 1518.1,702.1 1519.1,702.0 1520.1,701.9 1521.1,701.8 1522.1,701.7 1523.1,701.7 1524.1,701.8 1525.1,702.1 1526.1,702.6 1527.1,703.2 1528.1,703.9 1529.1,704.5 1530.1,705.0 1531.1,705.4 1532.1,705.8 1533.1,706.2 1534.1,706.6 1535.1,707.0 1536.1,707.3 1537.1,707.6 1538.1,707.8 1539.1,708.0 1540.1,708.1 1541.1,708.1 1542.1,708.1 1543.1,708.1 1544.1,708.0 1545.1,708.0 1546.1,707.9 1547.1,707.8 1548.1,707.7 1549.1,707.7 1550.1,707.6 1551.1,707.7 1552.1,707.8 1553.1,708.1 1554.1,708.5 1555.1,708.9 1556.1,709.3 1557.1,709.9 1558.1,710.6 1559.1,711.3 1560.1,712.1 1561.1,713.1 1562.1,714.1 1563.1,715.1 1564.1,716.1 1565.1,717.1 1566.1,718.0 1567.1,718.8 1568.1,719.6 1569.1,720.4 1570.1,721.1 1571.1,721.7 1572.1,722.3 1573.1,722.9 1574.1,723.5 1575.1,724.1 1576.1,724.7 1577.1,725.3 1578.1,725.9 1579.1,726.5 1580.1,727.1 1581.1,727.8 1582.1,728.5 1583.1,729.3 1584.1,730.2 1585.1,731.1 1586.1,732.0 1587.1,732.9 1588.1,733.8 1589.1,734.7 1590.1,735.6 1591.1,736.5 1592.1,737.4 1593.1,738.3 1594.1,739.2 1595.1,740.1 1596.1,740.9 1597.1,741.7 1598.1,742.4 1599.1,743.0 1600.1,743.5 1601.1,744.1 1602.1,744.6 1603.1,745.1 1604.1,745.6 1605.1,746.1 1606.1,746.6 1607.1,747.1 1608.1,747.6 1609.1,748.1 1610.1,748.6 1611.1,749.2 1612.1,749.9 1613.1,750.8 1614.1,751.7 1615.1,752.6 1616.1,753.6 1617.1,754.6 1618.1,755.6 1619.1,756.6 1620.1,757.6 1621.1,758.6 1622.1,759.5 1623.1,760.4 1624.1,761.3 1625.1,762.0 1626.1,762.7 1627.1,763.3 1628.1,763.8 1629.1,764.2 1630.1,764.5 1631.1,764.8 1632.1,765.1 1633.1,765.4 1634.1,765.7 1635.1,766.0 1636.1,766.4 1637.1,766.8 1638.1,767.2 1639.1,767.6 1640.1,768.1 1641.1,768.7 1642.1,769.4 1643.1,770.2 1644.1,771.1 1645.1,772.1 1646.1,773.2 1647.1,774.3 1648.1,775.5 1649.1,776.6 1650.1,777.6 1651.1,778.6 1652.1,779.5 1653.1,780.5 1654.1,781.4 1655.1,782.2 1656.1,783.1 1657.1,783.9 1658.1,784.7 1659.1,785.5 1660.1,786.2 1661.1,786.9 1662.0,787.4" fill="none" stroke="#5470ee" stroke-width="6.3" stroke-linejoin="round" stroke-linecap="butt"/>
<circle cx="1524" cy="701.5" r="11" fill="#f9a9b8" stroke="#d90429" stroke-width="4.4"/>
<circle cx="1662" cy="787.6" r="11" fill="#90ee90" stroke="#087f5b" stroke-width="4.4"/>
<g fill="#d90429"><rect x="1522" y="665.3" width="4" height="12.6"/><rect x="1522" y="692" width="4" height="9.7"/></g>
<g fill="#087f5b"><rect x="1660" y="787.6" width="4" height="10.9"/><rect x="1660" y="811" width="4" height="1.5"/></g>
<text class="ann" transform="translate(1524.0,655.6) scale(1,0.94)" text-anchor="middle" fill="#d90429">Peak: Aug 2026</text>
<g clip-path="url(#pc)"><text class="ann" transform="translate(1526.3,837.6) scale(1,0.94)" fill="#087f5b">Trough: Feb 2027</text></g>
<text class="tick" transform="translate(212.3,237.6) scale(1,0.965)" text-anchor="end">$300,000</text><text class="tick" transform="translate(212.3,479.6) scale(1,0.965)" text-anchor="end">$200,000</text><text class="tick" transform="translate(212.3,721.6) scale(1,0.965)" text-anchor="end">$100,000</text><text class="tick" transform="translate(212.3,963.7) scale(1,0.965)" text-anchor="end">$0</text><text class="tick" transform="translate(479.6,1027.9) scale(1,0.975)" text-anchor="middle">2023</text><text class="tick" transform="translate(765.6,1027.9) scale(1,0.975)" text-anchor="middle">2024</text><text class="tick" transform="translate(1052.0,1027.9) scale(1,0.975)" text-anchor="middle">2025</text><text class="tick" transform="translate(1338.0,1027.9) scale(1,0.975)" text-anchor="middle">2026</text><text class="tick" transform="translate(1624.0,1027.9) scale(1,0.975)" text-anchor="middle">2027</text>
<text class="axt" transform="translate(978.5,1064.8) scale(1,1.02)" text-anchor="middle">Date</text><text class="axt" transform="translate(66.3,558.6) rotate(-90) scale(1,1.02)" text-anchor="middle">Price (USD)</text>
<rect x="261.7" y="76" width="38.1" height="9" fill="#4361ee"/><text class="leg" x="320" y="90">Forecast</text><rect x="446" y="76" width="38.1" height="9" fill="#2b2d42"/><text class="leg" x="504" y="90">Historical Price</text><rect x="768" y="59" width="44" height="44" fill="#d3e9f1"/><text class="leg" x="830" y="90">60% Confidence</text><rect x="1051" y="59" width="44" height="44" fill="#f7bebe"/><text class="leg" x="1112" y="90">Potential Resistance</text>
</svg>
</body></html>
